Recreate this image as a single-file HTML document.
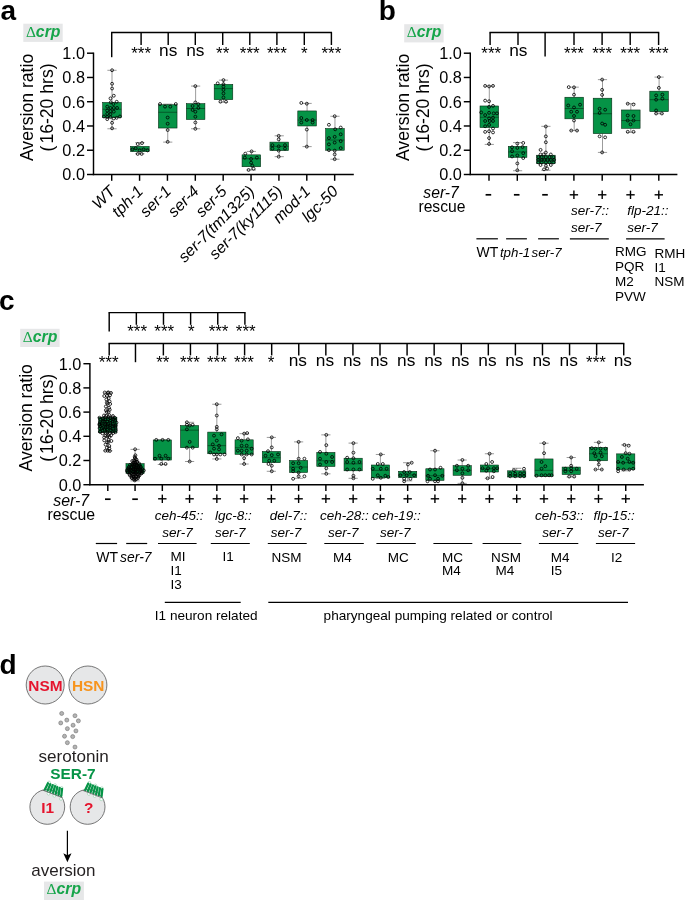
<!DOCTYPE html>
<html lang="en">
<head>
<meta charset="utf-8">
<title>Figure: serotonin SER-7 aversion</title>
<style>
html,body{margin:0;padding:0;background:#fff;}
body{width:685px;height:900px;overflow:hidden;font-family:"Liberation Sans",Arial,sans-serif;}
svg{display:block;will-change:transform;}
</style>
</head>
<body>
<svg width="685" height="900" viewBox="0 0 685 900" font-family="'Liberation Sans', Arial, sans-serif" fill="#000">
<rect width="685" height="900" fill="#fff"/>
<g id="panel-a">
<text x="0.4" y="20.4" font-size="28" font-weight="bold">a</text>
<rect x="23.3" y="23.7" width="39.4" height="18.2" fill="#e6e7e8"/>
<text x="25.9" y="36.5" font-size="14.8" fill="#16a54a"><tspan font-family="'Liberation Serif', serif" font-size="15.5">&#916;</tspan><tspan font-style="italic" font-weight="bold" font-size="15.8">crp</tspan></text>
<line x1="93.5" y1="52.55" x2="93.5" y2="175.15" stroke="#000" stroke-width="1.45"/>
<line x1="87" y1="174.5" x2="93.5" y2="174.5" stroke="#000" stroke-width="1.45"/>
<text x="85" y="180.4" font-size="16.3" text-anchor="end">0.0</text>
<line x1="87" y1="150.24" x2="93.5" y2="150.24" stroke="#000" stroke-width="1.45"/>
<text x="85" y="156.14" font-size="16.3" text-anchor="end">0.2</text>
<line x1="87" y1="125.98" x2="93.5" y2="125.98" stroke="#000" stroke-width="1.45"/>
<text x="85" y="131.88" font-size="16.3" text-anchor="end">0.4</text>
<line x1="87" y1="101.72" x2="93.5" y2="101.72" stroke="#000" stroke-width="1.45"/>
<text x="85" y="107.62" font-size="16.3" text-anchor="end">0.6</text>
<line x1="87" y1="77.46" x2="93.5" y2="77.46" stroke="#000" stroke-width="1.45"/>
<text x="85" y="83.36" font-size="16.3" text-anchor="end">0.8</text>
<line x1="87" y1="53.2" x2="93.5" y2="53.2" stroke="#000" stroke-width="1.45"/>
<text x="85" y="59.1" font-size="16.3" text-anchor="end">1.0</text>
<text transform="translate(26.6,107.45) rotate(-90)" font-size="17.6" text-anchor="middle" y="6">Aversion ratio</text>
<text transform="translate(46.7,107.45) rotate(-90)" font-size="17.6" text-anchor="middle" y="6">(<tspan dx="2">16-20 hrs)</tspan></text>
<line x1="92.85" y1="174.5" x2="353.8" y2="174.5" stroke="#000" stroke-width="1.45"/>
<line x1="111.7" y1="174.5" x2="111.7" y2="180.8" stroke="#000" stroke-width="1.45"/>
<line x1="139.57" y1="174.5" x2="139.57" y2="180.8" stroke="#000" stroke-width="1.45"/>
<line x1="167.44" y1="174.5" x2="167.44" y2="180.8" stroke="#000" stroke-width="1.45"/>
<line x1="195.31" y1="174.5" x2="195.31" y2="180.8" stroke="#000" stroke-width="1.45"/>
<line x1="223.18" y1="174.5" x2="223.18" y2="180.8" stroke="#000" stroke-width="1.45"/>
<line x1="251.05" y1="174.5" x2="251.05" y2="180.8" stroke="#000" stroke-width="1.45"/>
<line x1="278.92" y1="174.5" x2="278.92" y2="180.8" stroke="#000" stroke-width="1.45"/>
<line x1="306.79" y1="174.5" x2="306.79" y2="180.8" stroke="#000" stroke-width="1.45"/>
<line x1="334.66" y1="174.5" x2="334.66" y2="180.8" stroke="#000" stroke-width="1.45"/>
<line x1="111.05" y1="32.6" x2="332.05" y2="32.6" stroke="#000" stroke-width="1.45"/>
<line x1="111.7" y1="32.6" x2="111.7" y2="57.2" stroke="#000" stroke-width="1.45"/>
<line x1="141.1" y1="32.6" x2="141.1" y2="45" stroke="#000" stroke-width="1.45"/>
<line x1="168.2" y1="32.6" x2="168.2" y2="45" stroke="#000" stroke-width="1.45"/>
<line x1="195.3" y1="32.6" x2="195.3" y2="45" stroke="#000" stroke-width="1.45"/>
<line x1="222.7" y1="32.6" x2="222.7" y2="45" stroke="#000" stroke-width="1.45"/>
<line x1="249.8" y1="32.6" x2="249.8" y2="45" stroke="#000" stroke-width="1.45"/>
<line x1="276.9" y1="32.6" x2="276.9" y2="45" stroke="#000" stroke-width="1.45"/>
<line x1="304.3" y1="32.6" x2="304.3" y2="45" stroke="#000" stroke-width="1.45"/>
<line x1="331.4" y1="32.6" x2="331.4" y2="45" stroke="#000" stroke-width="1.45"/>
<text x="141.1" y="59.3" font-size="17" text-anchor="middle">***</text>
<text x="168.2" y="55.7" font-size="17.3" text-anchor="middle">ns</text>
<text x="195.3" y="55.7" font-size="17.3" text-anchor="middle">ns</text>
<text x="222.7" y="59.3" font-size="17" text-anchor="middle">**</text>
<text x="249.8" y="59.3" font-size="17" text-anchor="middle">***</text>
<text x="276.9" y="59.3" font-size="17" text-anchor="middle">***</text>
<text x="304.3" y="59.3" font-size="17" text-anchor="middle">*</text>
<text x="331.4" y="59.3" font-size="17" text-anchor="middle">***</text>
<text transform="translate(116.2,192.3) rotate(-45)" font-size="16" font-style="italic" text-anchor="end">WT</text>
<text transform="translate(144.07,192.3) rotate(-45)" font-size="16" font-style="italic" text-anchor="end">tph-1</text>
<text transform="translate(171.94,192.3) rotate(-45)" font-size="16" font-style="italic" text-anchor="end">ser-1</text>
<text transform="translate(199.81,192.3) rotate(-45)" font-size="16" font-style="italic" text-anchor="end">ser-4</text>
<text transform="translate(227.68,192.3) rotate(-45)" font-size="16" font-style="italic" text-anchor="end">ser-5</text>
<text transform="translate(255.55,192.3) rotate(-45)" font-size="16" font-style="italic" text-anchor="end">ser-7(tm1325)</text>
<text transform="translate(283.42,192.3) rotate(-45)" font-size="16" font-style="italic" text-anchor="end">ser-7(ky1115)</text>
<text transform="translate(311.29,192.3) rotate(-45)" font-size="16" font-style="italic" text-anchor="end">mod-1</text>
<text transform="translate(339.16,192.3) rotate(-45)" font-size="16" font-style="italic" text-anchor="end">lgc-50</text>
<g stroke="#222" stroke-width="0.45">
<line x1="112" y1="70.3" x2="112" y2="102.45"/>
<line x1="112" y1="117.49" x2="112" y2="128.77"/>
<line x1="107.4" y1="70.3" x2="116.6" y2="70.3"/>
<line x1="107.4" y1="128.77" x2="116.6" y2="128.77"/>
</g>
<rect x="102.7" y="102.45" width="18.6" height="15.04" fill="#059346" stroke="#03210d" stroke-width="0.55"/>
<line x1="102.7" y1="109.24" x2="121.3" y2="109.24" stroke="#03210d" stroke-width="0.5"/>
<g fill="none" stroke="#000" stroke-width="0.8">
<circle cx="112.08" cy="70.25" r="1.45"/>
<circle cx="112.08" cy="83.78" r="1.45"/>
<circle cx="112.08" cy="88.51" r="1.45"/>
<circle cx="113.79" cy="95.74" r="1.45"/>
<circle cx="110.5" cy="98.37" r="1.45"/>
<circle cx="116.68" cy="101.78" r="1.45"/>
<circle cx="110.77" cy="102.31" r="1.45"/>
<circle cx="113.39" cy="104.02" r="1.45"/>
<circle cx="107.22" cy="106.64" r="1.45"/>
<circle cx="110.5" cy="107.96" r="1.45"/>
<circle cx="113.79" cy="107.96" r="1.45"/>
<circle cx="117.07" cy="107.96" r="1.45"/>
<circle cx="107.22" cy="110.58" r="1.45"/>
<circle cx="110.5" cy="111.24" r="1.45"/>
<circle cx="113.79" cy="111.64" r="1.45"/>
<circle cx="107.22" cy="113.87" r="1.45"/>
<circle cx="110.5" cy="114.13" r="1.45"/>
<circle cx="103.93" cy="116.5" r="1.45"/>
<circle cx="107.22" cy="116.89" r="1.45"/>
<circle cx="110.5" cy="117.15" r="1.45"/>
<circle cx="113.79" cy="118.47" r="1.45"/>
<circle cx="116.68" cy="117.81" r="1.45"/>
<circle cx="119.96" cy="116.5" r="1.45"/>
<circle cx="107.22" cy="119.12" r="1.45"/>
<circle cx="112.08" cy="122.8" r="1.45"/>
<circle cx="112.08" cy="128.32" r="1.45"/>
</g>
<g stroke="#222" stroke-width="0.45">
<line x1="139.87" y1="142.6" x2="139.87" y2="146.36"/>
<line x1="139.87" y1="151.7" x2="139.87" y2="153.76"/>
<line x1="135.27" y1="142.6" x2="144.47" y2="142.6"/>
<line x1="135.27" y1="153.76" x2="144.47" y2="153.76"/>
</g>
<rect x="130.57" y="146.36" width="18.6" height="5.34" fill="#059346" stroke="#03210d" stroke-width="0.55"/>
<line x1="130.57" y1="149.03" x2="149.17" y2="149.03" stroke="#03210d" stroke-width="0.5"/>
<g fill="none" stroke="#000" stroke-width="0.8">
<circle cx="137.7" cy="144.09" r="1.45"/>
<circle cx="142.04" cy="143.04" r="1.45"/>
<circle cx="132.45" cy="149.34" r="1.45"/>
<circle cx="135.73" cy="148.29" r="1.45"/>
<circle cx="139.67" cy="150.4" r="1.45"/>
<circle cx="143.61" cy="149.34" r="1.45"/>
<circle cx="147.56" cy="150.4" r="1.45"/>
<circle cx="137.7" cy="153.94" r="1.45"/>
<circle cx="141.64" cy="153.94" r="1.45"/>
</g>
<g stroke="#222" stroke-width="0.45">
<line x1="167.74" y1="104.15" x2="167.74" y2="104.75"/>
<line x1="167.74" y1="128.04" x2="167.74" y2="142.11"/>
<line x1="163.14" y1="104.15" x2="172.34" y2="104.15"/>
<line x1="163.14" y1="142.11" x2="172.34" y2="142.11"/>
</g>
<rect x="158.44" y="104.75" width="18.6" height="23.29" fill="#059346" stroke="#03210d" stroke-width="0.55"/>
<line x1="158.44" y1="112.27" x2="177.04" y2="112.27" stroke="#03210d" stroke-width="0.5"/>
<g fill="none" stroke="#000" stroke-width="0.8">
<circle cx="160.04" cy="104.02" r="1.45"/>
<circle cx="175.8" cy="104.02" r="1.45"/>
<circle cx="165.03" cy="106.64" r="1.45"/>
<circle cx="170.29" cy="106.64" r="1.45"/>
<circle cx="167.66" cy="117.55" r="1.45"/>
<circle cx="167.66" cy="123.72" r="1.45"/>
<circle cx="167.66" cy="130.03" r="1.45"/>
<circle cx="167.66" cy="141.86" r="1.45"/>
</g>
<g stroke="#222" stroke-width="0.45">
<line x1="195.61" y1="86.07" x2="195.61" y2="103.66"/>
<line x1="195.61" y1="119.55" x2="195.61" y2="128.77"/>
<line x1="191.01" y1="86.07" x2="200.21" y2="86.07"/>
<line x1="191.01" y1="128.77" x2="200.21" y2="128.77"/>
</g>
<rect x="186.31" y="103.66" width="18.6" height="15.89" fill="#059346" stroke="#03210d" stroke-width="0.55"/>
<line x1="186.31" y1="108.51" x2="204.91" y2="108.51" stroke="#03210d" stroke-width="0.5"/>
<g fill="none" stroke="#000" stroke-width="0.8">
<circle cx="195.35" cy="86.12" r="1.45"/>
<circle cx="195.35" cy="102.44" r="1.45"/>
<circle cx="198.36" cy="104.19" r="1.45"/>
<circle cx="192.59" cy="105.95" r="1.45"/>
<circle cx="198.36" cy="107.96" r="1.45"/>
<circle cx="192.59" cy="109.97" r="1.45"/>
<circle cx="195.35" cy="111.72" r="1.45"/>
<circle cx="195.35" cy="116.75" r="1.45"/>
<circle cx="195.35" cy="122.52" r="1.45"/>
<circle cx="195.35" cy="128.8" r="1.45"/>
</g>
<g stroke="#222" stroke-width="0.45">
<line x1="223.48" y1="80.13" x2="223.48" y2="84.37"/>
<line x1="223.48" y1="99.66" x2="223.48" y2="102.21"/>
<line x1="218.88" y1="80.13" x2="228.08" y2="80.13"/>
<line x1="218.88" y1="102.21" x2="228.08" y2="102.21"/>
</g>
<rect x="214.18" y="84.37" width="18.6" height="15.28" fill="#059346" stroke="#03210d" stroke-width="0.55"/>
<line x1="214.18" y1="88.62" x2="232.78" y2="88.62" stroke="#03210d" stroke-width="0.5"/>
<g fill="none" stroke="#000" stroke-width="0.8">
<circle cx="223.47" cy="80.09" r="1.45"/>
<circle cx="217.69" cy="83.35" r="1.45"/>
<circle cx="223.47" cy="84.11" r="1.45"/>
<circle cx="223.47" cy="86.62" r="1.45"/>
<circle cx="223.47" cy="89.88" r="1.45"/>
<circle cx="223.47" cy="93.4" r="1.45"/>
<circle cx="223.47" cy="97.41" r="1.45"/>
<circle cx="220.46" cy="101.68" r="1.45"/>
<circle cx="225.98" cy="101.68" r="1.45"/>
</g>
<g stroke="#222" stroke-width="0.45">
<line x1="251.35" y1="151.45" x2="251.35" y2="154.85"/>
<line x1="251.35" y1="166.74" x2="251.35" y2="170.01"/>
<line x1="246.75" y1="151.45" x2="255.95" y2="151.45"/>
<line x1="246.75" y1="170.01" x2="255.95" y2="170.01"/>
</g>
<rect x="242.05" y="154.85" width="18.6" height="11.89" fill="#059346" stroke="#03210d" stroke-width="0.55"/>
<line x1="242.05" y1="158.73" x2="260.65" y2="158.73" stroke="#03210d" stroke-width="0.5"/>
<g fill="none" stroke="#000" stroke-width="0.8">
<circle cx="251.59" cy="151.39" r="1.45"/>
<circle cx="245.31" cy="153.65" r="1.45"/>
<circle cx="244.81" cy="157.67" r="1.45"/>
<circle cx="251.09" cy="158.93" r="1.45"/>
<circle cx="256.86" cy="157.67" r="1.45"/>
<circle cx="251.09" cy="162.69" r="1.45"/>
<circle cx="252.34" cy="165.7" r="1.45"/>
<circle cx="248.58" cy="169.97" r="1.45"/>
<circle cx="253.6" cy="168.72" r="1.45"/>
</g>
<g stroke="#222" stroke-width="0.45">
<line x1="279.22" y1="135.81" x2="279.22" y2="142.11"/>
<line x1="279.22" y1="150.6" x2="279.22" y2="156.67"/>
<line x1="274.62" y1="135.81" x2="283.82" y2="135.81"/>
<line x1="274.62" y1="156.67" x2="283.82" y2="156.67"/>
</g>
<rect x="269.92" y="142.11" width="18.6" height="8.49" fill="#059346" stroke="#03210d" stroke-width="0.55"/>
<line x1="269.92" y1="146.36" x2="288.52" y2="146.36" stroke="#03210d" stroke-width="0.5"/>
<g fill="none" stroke="#000" stroke-width="0.8">
<circle cx="278.7" cy="135.83" r="1.45"/>
<circle cx="278.7" cy="139.34" r="1.45"/>
<circle cx="272.43" cy="145.12" r="1.45"/>
<circle cx="278.7" cy="146.37" r="1.45"/>
<circle cx="284.98" cy="145.12" r="1.45"/>
<circle cx="272.43" cy="148.63" r="1.45"/>
<circle cx="278.7" cy="150.64" r="1.45"/>
<circle cx="284.98" cy="148.63" r="1.45"/>
<circle cx="278.7" cy="156.67" r="1.45"/>
</g>
<g stroke="#222" stroke-width="0.45">
<line x1="307.09" y1="103.42" x2="307.09" y2="110.94"/>
<line x1="307.09" y1="125.98" x2="307.09" y2="146.6"/>
<line x1="302.49" y1="103.42" x2="311.69" y2="103.42"/>
<line x1="302.49" y1="146.6" x2="311.69" y2="146.6"/>
</g>
<rect x="297.79" y="110.94" width="18.6" height="15.04" fill="#059346" stroke="#03210d" stroke-width="0.55"/>
<line x1="297.79" y1="120.04" x2="316.39" y2="120.04" stroke="#03210d" stroke-width="0.5"/>
<g fill="none" stroke="#000" stroke-width="0.8">
<circle cx="301.3" cy="102.94" r="1.45"/>
<circle cx="306.82" cy="103.69" r="1.45"/>
<circle cx="301.3" cy="118" r="1.45"/>
<circle cx="306.82" cy="120.01" r="1.45"/>
<circle cx="312.6" cy="120.01" r="1.45"/>
<circle cx="301.3" cy="122.52" r="1.45"/>
<circle cx="312.6" cy="122.52" r="1.45"/>
<circle cx="306.82" cy="129.55" r="1.45"/>
<circle cx="306.82" cy="146.62" r="1.45"/>
</g>
<g stroke="#222" stroke-width="0.45">
<line x1="334.96" y1="116.28" x2="334.96" y2="128.53"/>
<line x1="334.96" y1="150.24" x2="334.96" y2="159.22"/>
<line x1="330.36" y1="116.28" x2="339.56" y2="116.28"/>
<line x1="330.36" y1="159.22" x2="339.56" y2="159.22"/>
</g>
<rect x="325.66" y="128.53" width="18.6" height="21.71" fill="#059346" stroke="#03210d" stroke-width="0.55"/>
<line x1="325.66" y1="140.05" x2="344.26" y2="140.05" stroke="#03210d" stroke-width="0.5"/>
<g fill="none" stroke="#000" stroke-width="0.8">
<circle cx="334.69" cy="116.24" r="1.45"/>
<circle cx="328.92" cy="124.78" r="1.45"/>
<circle cx="335.19" cy="129.3" r="1.45"/>
<circle cx="340.72" cy="127.54" r="1.45"/>
<circle cx="328.92" cy="138.09" r="1.45"/>
<circle cx="334.69" cy="136.83" r="1.45"/>
<circle cx="340.72" cy="134.32" r="1.45"/>
<circle cx="328.92" cy="144.36" r="1.45"/>
<circle cx="334.69" cy="142.61" r="1.45"/>
<circle cx="340.72" cy="141.1" r="1.45"/>
<circle cx="328.92" cy="150.14" r="1.45"/>
<circle cx="334.69" cy="150.64" r="1.45"/>
<circle cx="340.72" cy="148.13" r="1.45"/>
<circle cx="334.69" cy="154.41" r="1.45"/>
<circle cx="334.69" cy="159.18" r="1.45"/>
</g>
</g>
<g id="panel-b">
<text x="378.7" y="20.4" font-size="28" font-weight="bold">b</text>
<rect x="404.2" y="24.2" width="39.4" height="18.2" fill="#e6e7e8"/>
<text x="406.8" y="37" font-size="14.8" fill="#16a54a"><tspan font-family="'Liberation Serif', serif" font-size="15.5">&#916;</tspan><tspan font-style="italic" font-weight="bold" font-size="15.8">crp</tspan></text>
<line x1="470.3" y1="52.55" x2="470.3" y2="175.15" stroke="#000" stroke-width="1.45"/>
<line x1="463.8" y1="174.5" x2="470.3" y2="174.5" stroke="#000" stroke-width="1.45"/>
<text x="461.8" y="180.4" font-size="16.3" text-anchor="end">0.0</text>
<line x1="463.8" y1="150.24" x2="470.3" y2="150.24" stroke="#000" stroke-width="1.45"/>
<text x="461.8" y="156.14" font-size="16.3" text-anchor="end">0.2</text>
<line x1="463.8" y1="125.98" x2="470.3" y2="125.98" stroke="#000" stroke-width="1.45"/>
<text x="461.8" y="131.88" font-size="16.3" text-anchor="end">0.4</text>
<line x1="463.8" y1="101.72" x2="470.3" y2="101.72" stroke="#000" stroke-width="1.45"/>
<text x="461.8" y="107.62" font-size="16.3" text-anchor="end">0.6</text>
<line x1="463.8" y1="77.46" x2="470.3" y2="77.46" stroke="#000" stroke-width="1.45"/>
<text x="461.8" y="83.36" font-size="16.3" text-anchor="end">0.8</text>
<line x1="463.8" y1="53.2" x2="470.3" y2="53.2" stroke="#000" stroke-width="1.45"/>
<text x="461.8" y="59.1" font-size="16.3" text-anchor="end">1.0</text>
<text transform="translate(402.8,107.45) rotate(-90)" font-size="17.6" text-anchor="middle" y="6">Aversion ratio</text>
<text transform="translate(423.1,107.45) rotate(-90)" font-size="17.6" text-anchor="middle" y="6">(<tspan dx="2">16-20 hrs)</tspan></text>
<line x1="469.65" y1="174.5" x2="677.4" y2="174.5" stroke="#000" stroke-width="1.45"/>
<line x1="489" y1="174.5" x2="489" y2="180.8" stroke="#000" stroke-width="1.45"/>
<line x1="517.3" y1="174.5" x2="517.3" y2="180.8" stroke="#000" stroke-width="1.45"/>
<line x1="545.6" y1="174.5" x2="545.6" y2="180.8" stroke="#000" stroke-width="1.45"/>
<line x1="573.9" y1="174.5" x2="573.9" y2="180.8" stroke="#000" stroke-width="1.45"/>
<line x1="602.2" y1="174.5" x2="602.2" y2="180.8" stroke="#000" stroke-width="1.45"/>
<line x1="630.5" y1="174.5" x2="630.5" y2="180.8" stroke="#000" stroke-width="1.45"/>
<line x1="658.8" y1="174.5" x2="658.8" y2="180.8" stroke="#000" stroke-width="1.45"/>
<line x1="489.45" y1="32.6" x2="659.25" y2="32.6" stroke="#000" stroke-width="1.45"/>
<line x1="490.1" y1="32.6" x2="490.1" y2="45" stroke="#000" stroke-width="1.45"/>
<line x1="518" y1="32.6" x2="518" y2="45" stroke="#000" stroke-width="1.45"/>
<line x1="545.1" y1="32.6" x2="545.1" y2="56.4" stroke="#000" stroke-width="1.45"/>
<line x1="574" y1="32.6" x2="574" y2="45" stroke="#000" stroke-width="1.45"/>
<line x1="602.1" y1="32.6" x2="602.1" y2="45" stroke="#000" stroke-width="1.45"/>
<line x1="630.2" y1="32.6" x2="630.2" y2="45" stroke="#000" stroke-width="1.45"/>
<line x1="658.6" y1="32.6" x2="658.6" y2="45" stroke="#000" stroke-width="1.45"/>
<text x="491.2" y="59.3" font-size="17" text-anchor="middle">***</text>
<text x="518.3" y="55.7" font-size="17.3" text-anchor="middle">ns</text>
<text x="574" y="59.3" font-size="17" text-anchor="middle">***</text>
<text x="602.1" y="59.3" font-size="17" text-anchor="middle">***</text>
<text x="630.2" y="59.3" font-size="17" text-anchor="middle">***</text>
<text x="658.6" y="59.3" font-size="17" text-anchor="middle">***</text>
<g stroke="#222" stroke-width="0.45">
<line x1="489.3" y1="86.07" x2="489.3" y2="105.97"/>
<line x1="489.3" y1="127.56" x2="489.3" y2="144.42"/>
<line x1="484.7" y1="86.07" x2="493.9" y2="86.07"/>
<line x1="484.7" y1="144.42" x2="493.9" y2="144.42"/>
</g>
<rect x="480" y="105.97" width="18.6" height="21.59" fill="#059346" stroke="#03210d" stroke-width="0.55"/>
<line x1="480" y1="117.25" x2="498.6" y2="117.25" stroke="#03210d" stroke-width="0.5"/>
<g fill="none" stroke="#000" stroke-width="0.8">
<circle cx="485.14" cy="85.91" r="1.45"/>
<circle cx="489.08" cy="86.43" r="1.45"/>
<circle cx="493.02" cy="85.91" r="1.45"/>
<circle cx="485.14" cy="100.62" r="1.45"/>
<circle cx="489.08" cy="101.28" r="1.45"/>
<circle cx="493.02" cy="105.88" r="1.45"/>
<circle cx="489.08" cy="106.93" r="1.45"/>
<circle cx="481.2" cy="112.45" r="1.45"/>
<circle cx="489.08" cy="112.84" r="1.45"/>
<circle cx="493.68" cy="113.37" r="1.45"/>
<circle cx="496.96" cy="113.37" r="1.45"/>
<circle cx="485.14" cy="115.07" r="1.45"/>
<circle cx="489.08" cy="118.36" r="1.45"/>
<circle cx="493.02" cy="117.7" r="1.45"/>
<circle cx="485.14" cy="120.99" r="1.45"/>
<circle cx="489.74" cy="120.99" r="1.45"/>
<circle cx="493.02" cy="120.99" r="1.45"/>
<circle cx="489.08" cy="124.93" r="1.45"/>
<circle cx="485.14" cy="126.24" r="1.45"/>
<circle cx="493.02" cy="128.48" r="1.45"/>
<circle cx="485.14" cy="131.89" r="1.45"/>
<circle cx="489.08" cy="131.23" r="1.45"/>
<circle cx="493.02" cy="132.42" r="1.45"/>
<circle cx="489.08" cy="138.07" r="1.45"/>
<circle cx="489.08" cy="143.98" r="1.45"/>
</g>
<g stroke="#222" stroke-width="0.45">
<line x1="517.6" y1="142.6" x2="517.6" y2="146.36"/>
<line x1="517.6" y1="157.4" x2="517.6" y2="170.74"/>
<line x1="513" y1="142.6" x2="522.2" y2="142.6"/>
<line x1="513" y1="170.74" x2="522.2" y2="170.74"/>
</g>
<rect x="508.3" y="146.36" width="18.6" height="11.04" fill="#059346" stroke="#03210d" stroke-width="0.55"/>
<line x1="508.3" y1="151.94" x2="526.9" y2="151.94" stroke="#03210d" stroke-width="0.5"/>
<g fill="none" stroke="#000" stroke-width="0.8">
<circle cx="517.33" cy="143.58" r="1.45"/>
<circle cx="523.24" cy="142.93" r="1.45"/>
<circle cx="512.07" cy="147.26" r="1.45"/>
<circle cx="517.33" cy="147.92" r="1.45"/>
<circle cx="522.58" cy="147" r="1.45"/>
<circle cx="512.07" cy="151.21" r="1.45"/>
<circle cx="523.24" cy="153.18" r="1.45"/>
<circle cx="512.07" cy="156.46" r="1.45"/>
<circle cx="517.33" cy="155.41" r="1.45"/>
<circle cx="523.24" cy="158.04" r="1.45"/>
<circle cx="517.33" cy="163.42" r="1.45"/>
<circle cx="517.33" cy="170.26" r="1.45"/>
</g>
<g stroke="#222" stroke-width="0.45">
<line x1="545.9" y1="126.34" x2="545.9" y2="155.21"/>
<line x1="545.9" y1="163.7" x2="545.9" y2="170.25"/>
<line x1="541.3" y1="126.34" x2="550.5" y2="126.34"/>
<line x1="541.3" y1="170.25" x2="550.5" y2="170.25"/>
</g>
<rect x="536.6" y="155.21" width="18.6" height="8.49" fill="#059346" stroke="#03210d" stroke-width="0.55"/>
<line x1="536.6" y1="159.7" x2="555.2" y2="159.7" stroke="#03210d" stroke-width="0.5"/>
<g fill="none" stroke="#000" stroke-width="0.8">
<circle cx="545.84" cy="126.5" r="1.45"/>
<circle cx="545.84" cy="136.36" r="1.45"/>
<circle cx="545.84" cy="142.27" r="1.45"/>
<circle cx="540.58" cy="149.89" r="1.45"/>
<circle cx="545.84" cy="152.52" r="1.45"/>
<circle cx="540.58" cy="154.49" r="1.45"/>
<circle cx="543.61" cy="154.49" r="1.45"/>
<circle cx="550.83" cy="154.49" r="1.45"/>
<circle cx="538.35" cy="157.12" r="1.45"/>
<circle cx="541.64" cy="157.12" r="1.45"/>
<circle cx="545.84" cy="157.12" r="1.45"/>
<circle cx="549.52" cy="157.12" r="1.45"/>
<circle cx="553.46" cy="157.12" r="1.45"/>
<circle cx="538.35" cy="159.75" r="1.45"/>
<circle cx="541.64" cy="159.75" r="1.45"/>
<circle cx="544.26" cy="159.75" r="1.45"/>
<circle cx="547.55" cy="159.75" r="1.45"/>
<circle cx="550.83" cy="159.75" r="1.45"/>
<circle cx="554.12" cy="159.75" r="1.45"/>
<circle cx="538.35" cy="162.37" r="1.45"/>
<circle cx="541.64" cy="162.37" r="1.45"/>
<circle cx="545.84" cy="162.37" r="1.45"/>
<circle cx="549.52" cy="162.37" r="1.45"/>
<circle cx="553.46" cy="162.37" r="1.45"/>
<circle cx="540.58" cy="165" r="1.45"/>
<circle cx="545.84" cy="165.66" r="1.45"/>
<circle cx="550.83" cy="165" r="1.45"/>
<circle cx="544" cy="169.34" r="1.45"/>
<circle cx="547.15" cy="168.55" r="1.45"/>
</g>
<g stroke="#222" stroke-width="0.45">
<line x1="574.2" y1="87.16" x2="574.2" y2="97.23"/>
<line x1="574.2" y1="118.82" x2="574.2" y2="130.59"/>
<line x1="569.6" y1="87.16" x2="578.8" y2="87.16"/>
<line x1="569.6" y1="130.59" x2="578.8" y2="130.59"/>
</g>
<rect x="564.9" y="97.23" width="18.6" height="21.59" fill="#059346" stroke="#03210d" stroke-width="0.55"/>
<line x1="564.9" y1="108.51" x2="583.5" y2="108.51" stroke="#03210d" stroke-width="0.5"/>
<g fill="none" stroke="#000" stroke-width="0.8">
<circle cx="568.74" cy="87.12" r="1.45"/>
<circle cx="574.01" cy="87.37" r="1.45"/>
<circle cx="574.01" cy="94.65" r="1.45"/>
<circle cx="568.23" cy="105.45" r="1.45"/>
<circle cx="580.03" cy="104.69" r="1.45"/>
<circle cx="574.01" cy="107.46" r="1.45"/>
<circle cx="571.25" cy="111.72" r="1.45"/>
<circle cx="577.02" cy="111.72" r="1.45"/>
<circle cx="574.01" cy="115.99" r="1.45"/>
<circle cx="574.01" cy="120.51" r="1.45"/>
<circle cx="571.25" cy="130.55" r="1.45"/>
<circle cx="577.02" cy="130.55" r="1.45"/>
</g>
<g stroke="#222" stroke-width="0.45">
<line x1="602.5" y1="79.64" x2="602.5" y2="98.2"/>
<line x1="602.5" y1="133.62" x2="602.5" y2="152.42"/>
<line x1="597.9" y1="79.64" x2="607.1" y2="79.64"/>
<line x1="597.9" y1="152.42" x2="607.1" y2="152.42"/>
</g>
<rect x="593.2" y="98.2" width="18.6" height="35.42" fill="#059346" stroke="#03210d" stroke-width="0.55"/>
<line x1="593.2" y1="113.73" x2="611.8" y2="113.73" stroke="#03210d" stroke-width="0.5"/>
<g fill="none" stroke="#000" stroke-width="0.8">
<circle cx="602.13" cy="79.59" r="1.45"/>
<circle cx="602.13" cy="89.88" r="1.45"/>
<circle cx="602.13" cy="94.9" r="1.45"/>
<circle cx="599.62" cy="108.71" r="1.45"/>
<circle cx="605.14" cy="109.72" r="1.45"/>
<circle cx="599.62" cy="112.98" r="1.45"/>
<circle cx="602.13" cy="123.52" r="1.45"/>
<circle cx="605.14" cy="124.78" r="1.45"/>
<circle cx="599.62" cy="136.33" r="1.45"/>
<circle cx="605.14" cy="137.33" r="1.45"/>
<circle cx="602.13" cy="152.4" r="1.45"/>
</g>
<g stroke="#222" stroke-width="0.45">
<line x1="630.8" y1="103.66" x2="630.8" y2="109.97"/>
<line x1="630.8" y1="128.28" x2="630.8" y2="132.29"/>
<line x1="626.2" y1="103.66" x2="635.4" y2="103.66"/>
<line x1="626.2" y1="132.29" x2="635.4" y2="132.29"/>
</g>
<rect x="621.5" y="109.97" width="18.6" height="18.32" fill="#059346" stroke="#03210d" stroke-width="0.55"/>
<line x1="621.5" y1="120.52" x2="640.1" y2="120.52" stroke="#03210d" stroke-width="0.5"/>
<g fill="none" stroke="#000" stroke-width="0.8">
<circle cx="627.74" cy="103.69" r="1.45"/>
<circle cx="633.51" cy="104.44" r="1.45"/>
<circle cx="627.74" cy="115.49" r="1.45"/>
<circle cx="633.51" cy="115.99" r="1.45"/>
<circle cx="627.74" cy="120.51" r="1.45"/>
<circle cx="633.51" cy="120.51" r="1.45"/>
<circle cx="630.5" cy="124.28" r="1.45"/>
<circle cx="627.74" cy="131.81" r="1.45"/>
<circle cx="633.51" cy="131.81" r="1.45"/>
</g>
<g stroke="#222" stroke-width="0.45">
<line x1="659.1" y1="77.1" x2="659.1" y2="91.17"/>
<line x1="659.1" y1="111.67" x2="659.1" y2="113.73"/>
<line x1="654.5" y1="77.1" x2="663.7" y2="77.1"/>
<line x1="654.5" y1="113.73" x2="663.7" y2="113.73"/>
</g>
<rect x="649.8" y="91.17" width="18.6" height="20.5" fill="#059346" stroke="#03210d" stroke-width="0.55"/>
<line x1="649.8" y1="99.66" x2="668.4" y2="99.66" stroke="#03210d" stroke-width="0.5"/>
<g fill="none" stroke="#000" stroke-width="0.8">
<circle cx="658.87" cy="77.08" r="1.45"/>
<circle cx="658.87" cy="87.87" r="1.45"/>
<circle cx="656.11" cy="95.41" r="1.45"/>
<circle cx="662.38" cy="94.65" r="1.45"/>
<circle cx="656.11" cy="99.67" r="1.45"/>
<circle cx="662.38" cy="98.67" r="1.45"/>
<circle cx="656.11" cy="110.47" r="1.45"/>
<circle cx="656.11" cy="113.48" r="1.45"/>
<circle cx="661.88" cy="113.48" r="1.45"/>
</g>
<text x="458.8" y="198" font-size="15.7" text-anchor="end" font-style="italic">ser-7</text>
<text x="465.5" y="211.7" font-size="15.7" text-anchor="end">rescue</text>
<line x1="485.6" y1="194.8" x2="491.2" y2="194.8" stroke="#000" stroke-width="1.7"/>
<line x1="513.9" y1="194.8" x2="519.5" y2="194.8" stroke="#000" stroke-width="1.7"/>
<line x1="542.2" y1="194.8" x2="547.8" y2="194.8" stroke="#000" stroke-width="1.7"/>
<line x1="569.7" y1="194.8" x2="578.1" y2="194.8" stroke="#000" stroke-width="1.4"/>
<line x1="573.9" y1="190.6" x2="573.9" y2="199" stroke="#000" stroke-width="1.4"/>
<line x1="598" y1="194.8" x2="606.4" y2="194.8" stroke="#000" stroke-width="1.4"/>
<line x1="602.2" y1="190.6" x2="602.2" y2="199" stroke="#000" stroke-width="1.4"/>
<line x1="626.3" y1="194.8" x2="634.7" y2="194.8" stroke="#000" stroke-width="1.4"/>
<line x1="630.5" y1="190.6" x2="630.5" y2="199" stroke="#000" stroke-width="1.4"/>
<line x1="654.6" y1="194.8" x2="663" y2="194.8" stroke="#000" stroke-width="1.4"/>
<line x1="658.8" y1="190.6" x2="658.8" y2="199" stroke="#000" stroke-width="1.4"/>
<text x="571" y="215.3" font-size="13.5" font-style="italic">ser-7::</text>
<text x="571" y="231.6" font-size="13.5" font-style="italic">ser-7</text>
<text x="627.2" y="215.3" font-size="13.5" font-style="italic">flp-21::</text>
<text x="627.2" y="231.6" font-size="13.5" font-style="italic">ser-7</text>
<line x1="476.4" y1="238.8" x2="497.9" y2="238.8" stroke="#000" stroke-width="1.2"/>
<line x1="506.1" y1="238.8" x2="526.9" y2="238.8" stroke="#000" stroke-width="1.2"/>
<line x1="538.1" y1="238.8" x2="558.9" y2="238.8" stroke="#000" stroke-width="1.2"/>
<line x1="569.9" y1="238.8" x2="608.8" y2="238.8" stroke="#000" stroke-width="1.2"/>
<line x1="626.1" y1="238.8" x2="664.6" y2="238.8" stroke="#000" stroke-width="1.2"/>
<text x="476.5" y="257" font-size="14.0">WT</text>
<text x="499.9" y="256.8" font-size="13.3" font-style="italic">tph-1</text>
<text x="531.5" y="256.8" font-size="13.3" font-style="italic">ser-7</text>
<text x="615.1" y="256.3" font-size="13.5">RMG</text>
<text x="615.1" y="271.3" font-size="13.5">PQR</text>
<text x="615.1" y="286.3" font-size="13.5">M2</text>
<text x="615.1" y="301.3" font-size="13.5">PVW</text>
<text x="654.6" y="257.6" font-size="13.5">RMH</text>
<text x="654.6" y="271.7" font-size="13.5">I1</text>
<text x="654.6" y="285.8" font-size="13.5">NSM</text>
</g>
<g id="panel-c">
<text x="-1" y="310.1" font-size="28" font-weight="bold">c</text>
<rect x="20.2" y="328.8" width="39.4" height="18.2" fill="#e6e7e8"/>
<text x="22.8" y="341.6" font-size="14.8" fill="#16a54a"><tspan font-family="'Liberation Serif', serif" font-size="15.5">&#916;</tspan><tspan font-style="italic" font-weight="bold" font-size="15.8">crp</tspan></text>
<line x1="89.9" y1="363.05" x2="89.9" y2="485.35" stroke="#000" stroke-width="1.45"/>
<line x1="83.4" y1="484.7" x2="89.9" y2="484.7" stroke="#000" stroke-width="1.45"/>
<text x="81.4" y="490.6" font-size="16.3" text-anchor="end">0.0</text>
<line x1="83.4" y1="460.5" x2="89.9" y2="460.5" stroke="#000" stroke-width="1.45"/>
<text x="81.4" y="466.4" font-size="16.3" text-anchor="end">0.2</text>
<line x1="83.4" y1="436.3" x2="89.9" y2="436.3" stroke="#000" stroke-width="1.45"/>
<text x="81.4" y="442.2" font-size="16.3" text-anchor="end">0.4</text>
<line x1="83.4" y1="412.1" x2="89.9" y2="412.1" stroke="#000" stroke-width="1.45"/>
<text x="81.4" y="418" font-size="16.3" text-anchor="end">0.6</text>
<line x1="83.4" y1="387.9" x2="89.9" y2="387.9" stroke="#000" stroke-width="1.45"/>
<text x="81.4" y="393.8" font-size="16.3" text-anchor="end">0.8</text>
<line x1="83.4" y1="363.7" x2="89.9" y2="363.7" stroke="#000" stroke-width="1.45"/>
<text x="81.4" y="369.6" font-size="16.3" text-anchor="end">1.0</text>
<text transform="translate(26.4,417.8) rotate(-90)" font-size="17.6" text-anchor="middle" y="6">Aversion ratio</text>
<text transform="translate(46.7,417.8) rotate(-90)" font-size="17.6" text-anchor="middle" y="6">(<tspan dx="2">16-20 hrs)</tspan></text>
<line x1="89.25" y1="484.7" x2="643.9" y2="484.7" stroke="#000" stroke-width="1.45"/>
<line x1="107.8" y1="484.7" x2="107.8" y2="491" stroke="#000" stroke-width="1.45"/>
<line x1="135.06" y1="484.7" x2="135.06" y2="491" stroke="#000" stroke-width="1.45"/>
<line x1="162.32" y1="484.7" x2="162.32" y2="491" stroke="#000" stroke-width="1.45"/>
<line x1="189.58" y1="484.7" x2="189.58" y2="491" stroke="#000" stroke-width="1.45"/>
<line x1="216.84" y1="484.7" x2="216.84" y2="491" stroke="#000" stroke-width="1.45"/>
<line x1="244.1" y1="484.7" x2="244.1" y2="491" stroke="#000" stroke-width="1.45"/>
<line x1="271.36" y1="484.7" x2="271.36" y2="491" stroke="#000" stroke-width="1.45"/>
<line x1="298.62" y1="484.7" x2="298.62" y2="491" stroke="#000" stroke-width="1.45"/>
<line x1="325.88" y1="484.7" x2="325.88" y2="491" stroke="#000" stroke-width="1.45"/>
<line x1="353.14" y1="484.7" x2="353.14" y2="491" stroke="#000" stroke-width="1.45"/>
<line x1="380.4" y1="484.7" x2="380.4" y2="491" stroke="#000" stroke-width="1.45"/>
<line x1="407.66" y1="484.7" x2="407.66" y2="491" stroke="#000" stroke-width="1.45"/>
<line x1="434.92" y1="484.7" x2="434.92" y2="491" stroke="#000" stroke-width="1.45"/>
<line x1="462.18" y1="484.7" x2="462.18" y2="491" stroke="#000" stroke-width="1.45"/>
<line x1="489.44" y1="484.7" x2="489.44" y2="491" stroke="#000" stroke-width="1.45"/>
<line x1="516.7" y1="484.7" x2="516.7" y2="491" stroke="#000" stroke-width="1.45"/>
<line x1="543.96" y1="484.7" x2="543.96" y2="491" stroke="#000" stroke-width="1.45"/>
<line x1="571.22" y1="484.7" x2="571.22" y2="491" stroke="#000" stroke-width="1.45"/>
<line x1="598.48" y1="484.7" x2="598.48" y2="491" stroke="#000" stroke-width="1.45"/>
<line x1="625.74" y1="484.7" x2="625.74" y2="491" stroke="#000" stroke-width="1.45"/>
<line x1="108.55" y1="312.6" x2="245.55" y2="312.6" stroke="#000" stroke-width="1.45"/>
<line x1="109.2" y1="312.6" x2="109.2" y2="331.6" stroke="#000" stroke-width="1.45"/>
<line x1="136.34" y1="312.6" x2="136.34" y2="324.8" stroke="#000" stroke-width="1.45"/>
<line x1="163.48" y1="312.6" x2="163.48" y2="324.8" stroke="#000" stroke-width="1.45"/>
<line x1="190.62" y1="312.6" x2="190.62" y2="324.8" stroke="#000" stroke-width="1.45"/>
<line x1="217.76" y1="312.6" x2="217.76" y2="324.8" stroke="#000" stroke-width="1.45"/>
<line x1="244.9" y1="312.6" x2="244.9" y2="324.8" stroke="#000" stroke-width="1.45"/>
<text x="137.14" y="337" font-size="17" text-anchor="middle">***</text>
<text x="164.28" y="337" font-size="17" text-anchor="middle">***</text>
<text x="191.42" y="337" font-size="17" text-anchor="middle">*</text>
<text x="218.56" y="337" font-size="17" text-anchor="middle">***</text>
<text x="245.7" y="337" font-size="17" text-anchor="middle">***</text>
<line x1="108.55" y1="343.5" x2="624.37" y2="343.5" stroke="#000" stroke-width="1.45"/>
<line x1="109.2" y1="343.5" x2="109.2" y2="355.4" stroke="#000" stroke-width="1.45"/>
<line x1="135.48" y1="343.5" x2="135.48" y2="362.2" stroke="#000" stroke-width="1.45"/>
<line x1="163.36" y1="343.5" x2="163.36" y2="355.4" stroke="#000" stroke-width="1.45"/>
<line x1="190.44" y1="343.5" x2="190.44" y2="355.4" stroke="#000" stroke-width="1.45"/>
<line x1="217.52" y1="343.5" x2="217.52" y2="355.4" stroke="#000" stroke-width="1.45"/>
<line x1="244.6" y1="343.5" x2="244.6" y2="355.4" stroke="#000" stroke-width="1.45"/>
<line x1="271.68" y1="343.5" x2="271.68" y2="355.4" stroke="#000" stroke-width="1.45"/>
<line x1="298.76" y1="343.5" x2="298.76" y2="355.4" stroke="#000" stroke-width="1.45"/>
<line x1="325.84" y1="343.5" x2="325.84" y2="355.4" stroke="#000" stroke-width="1.45"/>
<line x1="352.92" y1="343.5" x2="352.92" y2="355.4" stroke="#000" stroke-width="1.45"/>
<line x1="380" y1="343.5" x2="380" y2="355.4" stroke="#000" stroke-width="1.45"/>
<line x1="407.08" y1="343.5" x2="407.08" y2="355.4" stroke="#000" stroke-width="1.45"/>
<line x1="434.16" y1="343.5" x2="434.16" y2="355.4" stroke="#000" stroke-width="1.45"/>
<line x1="461.24" y1="343.5" x2="461.24" y2="355.4" stroke="#000" stroke-width="1.45"/>
<line x1="488.32" y1="343.5" x2="488.32" y2="355.4" stroke="#000" stroke-width="1.45"/>
<line x1="515.4" y1="343.5" x2="515.4" y2="355.4" stroke="#000" stroke-width="1.45"/>
<line x1="542.48" y1="343.5" x2="542.48" y2="355.4" stroke="#000" stroke-width="1.45"/>
<line x1="569.56" y1="343.5" x2="569.56" y2="355.4" stroke="#000" stroke-width="1.45"/>
<line x1="596.64" y1="343.5" x2="596.64" y2="355.4" stroke="#000" stroke-width="1.45"/>
<line x1="623.72" y1="343.5" x2="623.72" y2="355.4" stroke="#000" stroke-width="1.45"/>
<text x="108.6" y="368.1" font-size="17" text-anchor="middle">***</text>
<text x="162.76" y="368.1" font-size="17" text-anchor="middle">**</text>
<text x="189.84" y="368.1" font-size="17" text-anchor="middle">***</text>
<text x="216.92" y="368.1" font-size="17" text-anchor="middle">***</text>
<text x="244" y="368.1" font-size="17" text-anchor="middle">***</text>
<text x="271.08" y="368.1" font-size="17" text-anchor="middle">*</text>
<text x="297.86" y="365.6" font-size="17.3" text-anchor="middle">ns</text>
<text x="324.94" y="365.6" font-size="17.3" text-anchor="middle">ns</text>
<text x="352.02" y="365.6" font-size="17.3" text-anchor="middle">ns</text>
<text x="379.1" y="365.6" font-size="17.3" text-anchor="middle">ns</text>
<text x="406.18" y="365.6" font-size="17.3" text-anchor="middle">ns</text>
<text x="433.26" y="365.6" font-size="17.3" text-anchor="middle">ns</text>
<text x="460.34" y="365.6" font-size="17.3" text-anchor="middle">ns</text>
<text x="487.42" y="365.6" font-size="17.3" text-anchor="middle">ns</text>
<text x="514.5" y="365.6" font-size="17.3" text-anchor="middle">ns</text>
<text x="541.58" y="365.6" font-size="17.3" text-anchor="middle">ns</text>
<text x="568.66" y="365.6" font-size="17.3" text-anchor="middle">ns</text>
<text x="596.04" y="368.1" font-size="17" text-anchor="middle">***</text>
<text x="622.82" y="365.6" font-size="17.3" text-anchor="middle">ns</text>
<g stroke="#222" stroke-width="0.45">
<line x1="107.8" y1="392.88" x2="107.8" y2="417.32"/>
<line x1="107.8" y1="432.57" x2="107.8" y2="450.72"/>
<line x1="103.2" y1="392.88" x2="112.4" y2="392.88"/>
<line x1="103.2" y1="450.72" x2="112.4" y2="450.72"/>
</g>
<rect x="98.7" y="417.32" width="18.2" height="15.25" fill="#059346" stroke="#03210d" stroke-width="0.55"/>
<line x1="98.7" y1="425.31" x2="116.9" y2="425.31" stroke="#03210d" stroke-width="0.5"/>
<g fill="none" stroke="#000" stroke-width="0.8">
<circle cx="107.8" cy="392.9" r="1.45"/>
<circle cx="107.8" cy="450.7" r="1.45"/>
<circle cx="104.75" cy="392.5" r="1.45"/>
<circle cx="108.3" cy="392.34" r="1.45"/>
<circle cx="110.97" cy="392.93" r="1.45"/>
<circle cx="104.22" cy="396.01" r="1.45"/>
<circle cx="107.07" cy="395.87" r="1.45"/>
<circle cx="110.04" cy="395.18" r="1.45"/>
<circle cx="106.4" cy="399.45" r="1.45"/>
<circle cx="108.7" cy="398.25" r="1.45"/>
<circle cx="106.8" cy="402.5" r="1.45"/>
<circle cx="109.6" cy="401.39" r="1.45"/>
<circle cx="107.5" cy="403.49" r="1.45"/>
<circle cx="110.17" cy="403.98" r="1.45"/>
<circle cx="105.84" cy="406.44" r="1.45"/>
<circle cx="109.07" cy="407.83" r="1.45"/>
<circle cx="105.91" cy="410.16" r="1.45"/>
<circle cx="109.73" cy="409.74" r="1.45"/>
<circle cx="106.65" cy="411.93" r="1.45"/>
<circle cx="108.57" cy="412.21" r="1.45"/>
<circle cx="104.01" cy="415.46" r="1.45"/>
<circle cx="106.18" cy="415.77" r="1.45"/>
<circle cx="109.36" cy="415.2" r="1.45"/>
<circle cx="112.94" cy="416" r="1.45"/>
<circle cx="99.44" cy="417.72" r="1.45"/>
<circle cx="102.54" cy="418.2" r="1.45"/>
<circle cx="105.52" cy="417.26" r="1.45"/>
<circle cx="108.57" cy="416.99" r="1.45"/>
<circle cx="110.32" cy="418.01" r="1.45"/>
<circle cx="112.54" cy="417.58" r="1.45"/>
<circle cx="115.01" cy="417.87" r="1.45"/>
<circle cx="100.27" cy="419.59" r="1.45"/>
<circle cx="103.1" cy="419.18" r="1.45"/>
<circle cx="105.46" cy="419.63" r="1.45"/>
<circle cx="107.93" cy="419.4" r="1.45"/>
<circle cx="110.99" cy="420.19" r="1.45"/>
<circle cx="113.06" cy="419.74" r="1.45"/>
<circle cx="115.05" cy="419.8" r="1.45"/>
<circle cx="100.09" cy="422.14" r="1.45"/>
<circle cx="103.02" cy="421.01" r="1.45"/>
<circle cx="104.97" cy="421.62" r="1.45"/>
<circle cx="107.04" cy="421.29" r="1.45"/>
<circle cx="109.92" cy="420.74" r="1.45"/>
<circle cx="112.39" cy="421.78" r="1.45"/>
<circle cx="115.16" cy="420.95" r="1.45"/>
<circle cx="99.68" cy="423.82" r="1.45"/>
<circle cx="101.83" cy="423.14" r="1.45"/>
<circle cx="105.23" cy="423.84" r="1.45"/>
<circle cx="108.31" cy="423.81" r="1.45"/>
<circle cx="110.1" cy="423.09" r="1.45"/>
<circle cx="112.87" cy="423.84" r="1.45"/>
<circle cx="116.48" cy="422.67" r="1.45"/>
<circle cx="99.33" cy="424.67" r="1.45"/>
<circle cx="102.07" cy="425.08" r="1.45"/>
<circle cx="105.29" cy="424.72" r="1.45"/>
<circle cx="107.01" cy="424.97" r="1.45"/>
<circle cx="110.24" cy="425.21" r="1.45"/>
<circle cx="113.82" cy="425.4" r="1.45"/>
<circle cx="115.77" cy="425.29" r="1.45"/>
<circle cx="100.13" cy="426.26" r="1.45"/>
<circle cx="103.14" cy="427.42" r="1.45"/>
<circle cx="105.75" cy="427.45" r="1.45"/>
<circle cx="107.63" cy="426.81" r="1.45"/>
<circle cx="109.82" cy="427.19" r="1.45"/>
<circle cx="112.4" cy="426.28" r="1.45"/>
<circle cx="115.28" cy="426.43" r="1.45"/>
<circle cx="99.59" cy="428.13" r="1.45"/>
<circle cx="101.7" cy="428.29" r="1.45"/>
<circle cx="104.51" cy="428.63" r="1.45"/>
<circle cx="107.04" cy="429.45" r="1.45"/>
<circle cx="110.63" cy="428.29" r="1.45"/>
<circle cx="112.7" cy="428.61" r="1.45"/>
<circle cx="115.53" cy="428.25" r="1.45"/>
<circle cx="100.41" cy="431.51" r="1.45"/>
<circle cx="102.45" cy="430.7" r="1.45"/>
<circle cx="104.49" cy="430.09" r="1.45"/>
<circle cx="107.55" cy="430.35" r="1.45"/>
<circle cx="110.98" cy="430.18" r="1.45"/>
<circle cx="112.34" cy="431.45" r="1.45"/>
<circle cx="115.8" cy="430.16" r="1.45"/>
<circle cx="99.92" cy="431.84" r="1.45"/>
<circle cx="102.54" cy="433.37" r="1.45"/>
<circle cx="105.73" cy="432.91" r="1.45"/>
<circle cx="107.42" cy="432.39" r="1.45"/>
<circle cx="109.92" cy="433.04" r="1.45"/>
<circle cx="113.15" cy="433.05" r="1.45"/>
<circle cx="115.48" cy="432.16" r="1.45"/>
<circle cx="105.32" cy="435.77" r="1.45"/>
<circle cx="108.31" cy="435.41" r="1.45"/>
<circle cx="111.14" cy="435.28" r="1.45"/>
<circle cx="104.15" cy="437.44" r="1.45"/>
<circle cx="107.31" cy="436.46" r="1.45"/>
<circle cx="109.56" cy="436.96" r="1.45"/>
<circle cx="104.22" cy="440.39" r="1.45"/>
<circle cx="108.51" cy="439.89" r="1.45"/>
<circle cx="111.37" cy="440.98" r="1.45"/>
<circle cx="107.06" cy="442.33" r="1.45"/>
<circle cx="108.49" cy="442.05" r="1.45"/>
<circle cx="105.54" cy="444.61" r="1.45"/>
<circle cx="109.3" cy="446" r="1.45"/>
<circle cx="106.83" cy="447.76" r="1.45"/>
<circle cx="109.36" cy="448.4" r="1.45"/>
<circle cx="105.32" cy="450.72" r="1.45"/>
<circle cx="109.87" cy="450.96" r="1.45"/>
</g>
<g stroke="#222" stroke-width="0.45">
<line x1="135.06" y1="449.39" x2="135.06" y2="463.67"/>
<line x1="135.06" y1="473.35" x2="135.06" y2="480.85"/>
<line x1="130.46" y1="449.39" x2="139.66" y2="449.39"/>
<line x1="130.46" y1="480.85" x2="139.66" y2="480.85"/>
</g>
<rect x="125.96" y="463.67" width="18.2" height="9.68" fill="#059346" stroke="#03210d" stroke-width="0.55"/>
<line x1="125.96" y1="468.87" x2="144.16" y2="468.87" stroke="#03210d" stroke-width="0.5"/>
<g fill="none" stroke="#000" stroke-width="0.8">
<circle cx="135.1" cy="449.3" r="1.45"/>
<circle cx="135.4" cy="455.27" r="1.45"/>
<circle cx="134.71" cy="456.87" r="1.45"/>
<circle cx="134.9" cy="458.11" r="1.45"/>
<circle cx="135.67" cy="458.85" r="1.45"/>
<circle cx="133.78" cy="460.73" r="1.45"/>
<circle cx="136.57" cy="459.8" r="1.45"/>
<circle cx="132.25" cy="461" r="1.45"/>
<circle cx="135.59" cy="461.79" r="1.45"/>
<circle cx="137.08" cy="461.81" r="1.45"/>
<circle cx="133.28" cy="462.83" r="1.45"/>
<circle cx="134.92" cy="462.7" r="1.45"/>
<circle cx="137.06" cy="462.06" r="1.45"/>
<circle cx="132.07" cy="464.05" r="1.45"/>
<circle cx="133.93" cy="464.39" r="1.45"/>
<circle cx="136.22" cy="464.31" r="1.45"/>
<circle cx="139.09" cy="463.52" r="1.45"/>
<circle cx="130" cy="464.84" r="1.45"/>
<circle cx="132.39" cy="465.19" r="1.45"/>
<circle cx="134.81" cy="464.99" r="1.45"/>
<circle cx="137.06" cy="465.58" r="1.45"/>
<circle cx="139.72" cy="465.04" r="1.45"/>
<circle cx="129.2" cy="466.8" r="1.45"/>
<circle cx="131.4" cy="466.82" r="1.45"/>
<circle cx="133.9" cy="466.35" r="1.45"/>
<circle cx="136.33" cy="465.74" r="1.45"/>
<circle cx="138.63" cy="465.93" r="1.45"/>
<circle cx="140.5" cy="466.67" r="1.45"/>
<circle cx="128.71" cy="467.51" r="1.45"/>
<circle cx="131.77" cy="467.61" r="1.45"/>
<circle cx="133.69" cy="467.56" r="1.45"/>
<circle cx="136.37" cy="467.88" r="1.45"/>
<circle cx="138.23" cy="467.61" r="1.45"/>
<circle cx="140.8" cy="467.27" r="1.45"/>
<circle cx="128.23" cy="468.77" r="1.45"/>
<circle cx="130.37" cy="469.07" r="1.45"/>
<circle cx="133.19" cy="468.69" r="1.45"/>
<circle cx="135.24" cy="468.77" r="1.45"/>
<circle cx="137.51" cy="468.99" r="1.45"/>
<circle cx="139.84" cy="468.8" r="1.45"/>
<circle cx="142.27" cy="469.29" r="1.45"/>
<circle cx="126.94" cy="470.44" r="1.45"/>
<circle cx="129.63" cy="469.7" r="1.45"/>
<circle cx="131.57" cy="470.52" r="1.45"/>
<circle cx="134.31" cy="469.55" r="1.45"/>
<circle cx="135.85" cy="469.92" r="1.45"/>
<circle cx="138.19" cy="469.67" r="1.45"/>
<circle cx="140.59" cy="470.19" r="1.45"/>
<circle cx="143.84" cy="470.46" r="1.45"/>
<circle cx="127.49" cy="471.47" r="1.45"/>
<circle cx="130.49" cy="470.78" r="1.45"/>
<circle cx="133.16" cy="471.77" r="1.45"/>
<circle cx="134.76" cy="471.75" r="1.45"/>
<circle cx="137.38" cy="471.19" r="1.45"/>
<circle cx="140.49" cy="471.61" r="1.45"/>
<circle cx="141.89" cy="471.13" r="1.45"/>
<circle cx="127.92" cy="472.24" r="1.45"/>
<circle cx="129.93" cy="472.22" r="1.45"/>
<circle cx="132.97" cy="471.86" r="1.45"/>
<circle cx="135.16" cy="472.36" r="1.45"/>
<circle cx="136.92" cy="472.23" r="1.45"/>
<circle cx="140.05" cy="472.45" r="1.45"/>
<circle cx="141.78" cy="473.02" r="1.45"/>
<circle cx="129.45" cy="474.22" r="1.45"/>
<circle cx="131.03" cy="473.38" r="1.45"/>
<circle cx="133.35" cy="473.99" r="1.45"/>
<circle cx="136.02" cy="473.21" r="1.45"/>
<circle cx="138.61" cy="474.15" r="1.45"/>
<circle cx="141.48" cy="473.37" r="1.45"/>
<circle cx="129.88" cy="475.38" r="1.45"/>
<circle cx="132.78" cy="475.12" r="1.45"/>
<circle cx="134.61" cy="474.35" r="1.45"/>
<circle cx="137.73" cy="474.79" r="1.45"/>
<circle cx="139.39" cy="475.41" r="1.45"/>
<circle cx="131.66" cy="476.47" r="1.45"/>
<circle cx="133.4" cy="476.53" r="1.45"/>
<circle cx="135.78" cy="476.54" r="1.45"/>
<circle cx="138.64" cy="475.91" r="1.45"/>
<circle cx="131.56" cy="477.84" r="1.45"/>
<circle cx="133.62" cy="476.88" r="1.45"/>
<circle cx="136.33" cy="477.01" r="1.45"/>
<circle cx="138.23" cy="476.92" r="1.45"/>
<circle cx="132.16" cy="478.19" r="1.45"/>
<circle cx="134.87" cy="478.32" r="1.45"/>
<circle cx="137.81" cy="478.3" r="1.45"/>
<circle cx="133.9" cy="479.39" r="1.45"/>
<circle cx="136.12" cy="479.2" r="1.45"/>
<circle cx="134.8" cy="480.42" r="1.45"/>
</g>
<g stroke="#222" stroke-width="0.45">
<line x1="162.32" y1="439.95" x2="162.32" y2="439.95"/>
<line x1="162.32" y1="460.04" x2="162.32" y2="464.51"/>
<line x1="157.72" y1="439.95" x2="166.92" y2="439.95"/>
<line x1="157.72" y1="464.51" x2="166.92" y2="464.51"/>
</g>
<rect x="153.22" y="439.95" width="18.2" height="20.09" fill="#059346" stroke="#03210d" stroke-width="0.55"/>
<line x1="153.22" y1="457.74" x2="171.42" y2="457.74" stroke="#03210d" stroke-width="0.5"/>
<g fill="none" stroke="#000" stroke-width="0.8">
<circle cx="156.28" cy="439.89" r="1.45"/>
<circle cx="162.55" cy="439.89" r="1.45"/>
<circle cx="168.33" cy="439.89" r="1.45"/>
<circle cx="159.54" cy="455.7" r="1.45"/>
<circle cx="165.57" cy="455.7" r="1.45"/>
<circle cx="155.02" cy="458.72" r="1.45"/>
<circle cx="161.3" cy="458.72" r="1.45"/>
<circle cx="168.33" cy="458.72" r="1.45"/>
<circle cx="161.3" cy="463.99" r="1.45"/>
<circle cx="165.57" cy="463.99" r="1.45"/>
</g>
<g stroke="#222" stroke-width="0.45">
<line x1="189.58" y1="422.29" x2="189.58" y2="425.55"/>
<line x1="189.58" y1="447.7" x2="189.58" y2="461.49"/>
<line x1="184.98" y1="422.29" x2="194.18" y2="422.29"/>
<line x1="184.98" y1="461.49" x2="194.18" y2="461.49"/>
</g>
<rect x="180.48" y="425.55" width="18.2" height="22.14" fill="#059346" stroke="#03210d" stroke-width="0.55"/>
<line x1="180.48" y1="430.15" x2="198.68" y2="430.15" stroke="#03210d" stroke-width="0.5"/>
<g fill="none" stroke="#000" stroke-width="0.8">
<circle cx="186.91" cy="422.31" r="1.45"/>
<circle cx="186.91" cy="424.82" r="1.45"/>
<circle cx="192.68" cy="424.82" r="1.45"/>
<circle cx="189.67" cy="425.58" r="1.45"/>
<circle cx="186.91" cy="429.34" r="1.45"/>
<circle cx="189.67" cy="441.9" r="1.45"/>
<circle cx="186.91" cy="447.67" r="1.45"/>
<circle cx="192.68" cy="447.67" r="1.45"/>
<circle cx="189.67" cy="461.48" r="1.45"/>
</g>
<g stroke="#222" stroke-width="0.45">
<line x1="216.84" y1="404.26" x2="216.84" y2="432.09"/>
<line x1="216.84" y1="453.75" x2="216.84" y2="458.95"/>
<line x1="212.24" y1="404.26" x2="221.44" y2="404.26"/>
<line x1="212.24" y1="458.95" x2="221.44" y2="458.95"/>
</g>
<rect x="207.74" y="432.09" width="18.2" height="21.66" fill="#059346" stroke="#03210d" stroke-width="0.55"/>
<line x1="207.74" y1="445.64" x2="225.94" y2="445.64" stroke="#03210d" stroke-width="0.5"/>
<g fill="none" stroke="#000" stroke-width="0.8">
<circle cx="216.78" cy="404.24" r="1.45"/>
<circle cx="216.78" cy="415.53" r="1.45"/>
<circle cx="216.78" cy="426.83" r="1.45"/>
<circle cx="216.78" cy="429.34" r="1.45"/>
<circle cx="221.55" cy="434.36" r="1.45"/>
<circle cx="214.02" cy="435.62" r="1.45"/>
<circle cx="216.78" cy="440.64" r="1.45"/>
<circle cx="212.77" cy="444.41" r="1.45"/>
<circle cx="219.04" cy="445.66" r="1.45"/>
<circle cx="214.02" cy="448.67" r="1.45"/>
<circle cx="219.04" cy="449.43" r="1.45"/>
<circle cx="210.26" cy="452.44" r="1.45"/>
<circle cx="214.02" cy="454.45" r="1.45"/>
<circle cx="216.78" cy="454.45" r="1.45"/>
<circle cx="220.3" cy="454.45" r="1.45"/>
<circle cx="224.57" cy="454.45" r="1.45"/>
<circle cx="216.78" cy="458.97" r="1.45"/>
</g>
<g stroke="#222" stroke-width="0.45">
<line x1="244.1" y1="433.66" x2="244.1" y2="439.83"/>
<line x1="244.1" y1="454.35" x2="244.1" y2="464.03"/>
<line x1="239.5" y1="433.66" x2="248.7" y2="433.66"/>
<line x1="239.5" y1="464.03" x2="248.7" y2="464.03"/>
</g>
<rect x="235" y="439.83" width="18.2" height="14.52" fill="#059346" stroke="#03210d" stroke-width="0.55"/>
<line x1="235" y1="447.7" x2="253.2" y2="447.7" stroke="#03210d" stroke-width="0.5"/>
<g fill="none" stroke="#000" stroke-width="0.8">
<circle cx="244.15" cy="433.61" r="1.45"/>
<circle cx="247.16" cy="433.11" r="1.45"/>
<circle cx="237.87" cy="438.13" r="1.45"/>
<circle cx="241.64" cy="440.64" r="1.45"/>
<circle cx="247.92" cy="439.38" r="1.45"/>
<circle cx="241.64" cy="445.66" r="1.45"/>
<circle cx="246.66" cy="445.66" r="1.45"/>
<circle cx="251.68" cy="448.67" r="1.45"/>
<circle cx="237.87" cy="450.68" r="1.45"/>
<circle cx="241.64" cy="450.68" r="1.45"/>
<circle cx="246.66" cy="450.68" r="1.45"/>
<circle cx="241.64" cy="454.45" r="1.45"/>
<circle cx="246.66" cy="454.45" r="1.45"/>
<circle cx="251.68" cy="454.45" r="1.45"/>
<circle cx="244.15" cy="458.21" r="1.45"/>
<circle cx="244.15" cy="463.99" r="1.45"/>
</g>
<g stroke="#222" stroke-width="0.45">
<line x1="271.36" y1="437.41" x2="271.36" y2="451.45"/>
<line x1="271.36" y1="462.7" x2="271.36" y2="471.29"/>
<line x1="266.76" y1="437.41" x2="275.96" y2="437.41"/>
<line x1="266.76" y1="471.29" x2="275.96" y2="471.29"/>
</g>
<rect x="262.26" y="451.45" width="18.2" height="11.25" fill="#059346" stroke="#03210d" stroke-width="0.55"/>
<line x1="262.26" y1="457.74" x2="280.46" y2="457.74" stroke="#03210d" stroke-width="0.5"/>
<g fill="none" stroke="#000" stroke-width="0.8">
<circle cx="271.77" cy="437.38" r="1.45"/>
<circle cx="271.77" cy="447.42" r="1.45"/>
<circle cx="268" cy="451.19" r="1.45"/>
<circle cx="265.49" cy="455.7" r="1.45"/>
<circle cx="271.77" cy="455.2" r="1.45"/>
<circle cx="278.04" cy="454.45" r="1.45"/>
<circle cx="269.26" cy="460.73" r="1.45"/>
<circle cx="274.28" cy="460.73" r="1.45"/>
<circle cx="268.5" cy="463.99" r="1.45"/>
<circle cx="271.77" cy="465.75" r="1.45"/>
<circle cx="271.77" cy="471.27" r="1.45"/>
</g>
<g stroke="#222" stroke-width="0.45">
<line x1="298.62" y1="441.89" x2="298.62" y2="460.4"/>
<line x1="298.62" y1="472.5" x2="298.62" y2="478.31"/>
<line x1="294.02" y1="441.89" x2="303.22" y2="441.89"/>
<line x1="294.02" y1="478.31" x2="303.22" y2="478.31"/>
</g>
<rect x="289.52" y="460.4" width="18.2" height="12.1" fill="#059346" stroke="#03210d" stroke-width="0.55"/>
<line x1="289.52" y1="467.06" x2="307.72" y2="467.06" stroke="#03210d" stroke-width="0.5"/>
<g fill="none" stroke="#000" stroke-width="0.8">
<circle cx="298.63" cy="441.9" r="1.45"/>
<circle cx="298.63" cy="458.72" r="1.45"/>
<circle cx="304.41" cy="458.72" r="1.45"/>
<circle cx="293.11" cy="463.24" r="1.45"/>
<circle cx="298.63" cy="463.24" r="1.45"/>
<circle cx="293.11" cy="468.76" r="1.45"/>
<circle cx="300.64" cy="467.76" r="1.45"/>
<circle cx="293.11" cy="471.27" r="1.45"/>
<circle cx="298.63" cy="472.53" r="1.45"/>
<circle cx="298.63" cy="476.29" r="1.45"/>
<circle cx="293.11" cy="478.8" r="1.45"/>
<circle cx="304.41" cy="476.29" r="1.45"/>
</g>
<g stroke="#222" stroke-width="0.45">
<line x1="325.88" y1="434.87" x2="325.88" y2="452.41"/>
<line x1="325.88" y1="466.45" x2="325.88" y2="473.83"/>
<line x1="321.28" y1="434.87" x2="330.48" y2="434.87"/>
<line x1="321.28" y1="473.83" x2="330.48" y2="473.83"/>
</g>
<rect x="316.78" y="452.41" width="18.2" height="14.04" fill="#059346" stroke="#03210d" stroke-width="0.55"/>
<line x1="316.78" y1="460.76" x2="334.98" y2="460.76" stroke="#03210d" stroke-width="0.5"/>
<g fill="none" stroke="#000" stroke-width="0.8">
<circle cx="326.32" cy="434.87" r="1.45"/>
<circle cx="326.32" cy="445.16" r="1.45"/>
<circle cx="320.04" cy="451.94" r="1.45"/>
<circle cx="326.32" cy="453.7" r="1.45"/>
<circle cx="320.04" cy="458.72" r="1.45"/>
<circle cx="332.09" cy="456.96" r="1.45"/>
<circle cx="326.32" cy="461.98" r="1.45"/>
<circle cx="332.09" cy="461.98" r="1.45"/>
<circle cx="320.04" cy="464.49" r="1.45"/>
<circle cx="326.32" cy="468.26" r="1.45"/>
<circle cx="326.32" cy="473.78" r="1.45"/>
</g>
<g stroke="#222" stroke-width="0.45">
<line x1="353.14" y1="443.1" x2="353.14" y2="458.22"/>
<line x1="353.14" y1="470.81" x2="353.14" y2="478.31"/>
<line x1="348.54" y1="443.1" x2="357.74" y2="443.1"/>
<line x1="348.54" y1="478.31" x2="357.74" y2="478.31"/>
</g>
<rect x="344.04" y="458.22" width="18.2" height="12.58" fill="#059346" stroke="#03210d" stroke-width="0.55"/>
<line x1="344.04" y1="463.79" x2="362.24" y2="463.79" stroke="#03210d" stroke-width="0.5"/>
<g fill="none" stroke="#000" stroke-width="0.8">
<circle cx="353.43" cy="443.15" r="1.45"/>
<circle cx="353.43" cy="452.69" r="1.45"/>
<circle cx="347.16" cy="457.71" r="1.45"/>
<circle cx="353.43" cy="458.21" r="1.45"/>
<circle cx="347.16" cy="461.98" r="1.45"/>
<circle cx="353.43" cy="462.73" r="1.45"/>
<circle cx="359.46" cy="461.98" r="1.45"/>
<circle cx="347.16" cy="469.51" r="1.45"/>
<circle cx="353.43" cy="469.51" r="1.45"/>
<circle cx="359.46" cy="469.51" r="1.45"/>
<circle cx="353.43" cy="475.79" r="1.45"/>
<circle cx="353.43" cy="478.3" r="1.45"/>
</g>
<g stroke="#222" stroke-width="0.45">
<line x1="380.4" y1="454.47" x2="380.4" y2="465"/>
<line x1="380.4" y1="477.82" x2="380.4" y2="478.31"/>
<line x1="375.8" y1="454.47" x2="385" y2="454.47"/>
<line x1="375.8" y1="478.31" x2="385" y2="478.31"/>
</g>
<rect x="371.3" y="465" width="18.2" height="12.83" fill="#059346" stroke="#03210d" stroke-width="0.55"/>
<line x1="371.3" y1="470.32" x2="389.5" y2="470.32" stroke="#03210d" stroke-width="0.5"/>
<g fill="none" stroke="#000" stroke-width="0.8">
<circle cx="380.8" cy="454.45" r="1.45"/>
<circle cx="377.79" cy="463.99" r="1.45"/>
<circle cx="382.81" cy="463.99" r="1.45"/>
<circle cx="372.77" cy="468.76" r="1.45"/>
<circle cx="380.8" cy="468.76" r="1.45"/>
<circle cx="386.58" cy="468.76" r="1.45"/>
<circle cx="377.79" cy="475.29" r="1.45"/>
<circle cx="385.32" cy="475.79" r="1.45"/>
<circle cx="372.77" cy="478.8" r="1.45"/>
<circle cx="380.8" cy="477.8" r="1.45"/>
<circle cx="388.33" cy="477.04" r="1.45"/>
</g>
<g stroke="#222" stroke-width="0.45">
<line x1="407.66" y1="462.7" x2="407.66" y2="471.29"/>
<line x1="407.66" y1="477.58" x2="407.66" y2="480.85"/>
<line x1="403.06" y1="462.7" x2="412.26" y2="462.7"/>
<line x1="403.06" y1="480.85" x2="412.26" y2="480.85"/>
</g>
<rect x="398.56" y="471.29" width="18.2" height="6.29" fill="#059346" stroke="#03210d" stroke-width="0.55"/>
<line x1="398.56" y1="474.92" x2="416.76" y2="474.92" stroke="#03210d" stroke-width="0.5"/>
<g fill="none" stroke="#000" stroke-width="0.8">
<circle cx="411.68" cy="462.73" r="1.45"/>
<circle cx="407.92" cy="464.49" r="1.45"/>
<circle cx="404.15" cy="472.02" r="1.45"/>
<circle cx="409.67" cy="472.02" r="1.45"/>
<circle cx="400.38" cy="475.29" r="1.45"/>
<circle cx="406.66" cy="475.29" r="1.45"/>
<circle cx="414.19" cy="475.29" r="1.45"/>
<circle cx="404.15" cy="478.8" r="1.45"/>
<circle cx="410.43" cy="478.8" r="1.45"/>
<circle cx="404.15" cy="481.31" r="1.45"/>
</g>
<g stroke="#222" stroke-width="0.45">
<line x1="434.92" y1="450.72" x2="434.92" y2="468.75"/>
<line x1="434.92" y1="480.37" x2="434.92" y2="480.85"/>
<line x1="430.32" y1="450.72" x2="439.52" y2="450.72"/>
<line x1="430.32" y1="480.85" x2="439.52" y2="480.85"/>
</g>
<rect x="425.82" y="468.75" width="18.2" height="11.62" fill="#059346" stroke="#03210d" stroke-width="0.55"/>
<line x1="425.82" y1="475.77" x2="444.02" y2="475.77" stroke="#03210d" stroke-width="0.5"/>
<g fill="none" stroke="#000" stroke-width="0.8">
<circle cx="435.03" cy="450.68" r="1.45"/>
<circle cx="440.55" cy="467.76" r="1.45"/>
<circle cx="430.01" cy="469.51" r="1.45"/>
<circle cx="435.03" cy="469.51" r="1.45"/>
<circle cx="428" cy="475.79" r="1.45"/>
<circle cx="435.03" cy="475.29" r="1.45"/>
<circle cx="442.31" cy="475.79" r="1.45"/>
<circle cx="430.01" cy="478.8" r="1.45"/>
<circle cx="438.04" cy="478.8" r="1.45"/>
<circle cx="427.5" cy="481.31" r="1.45"/>
<circle cx="435.03" cy="481.31" r="1.45"/>
<circle cx="438.04" cy="481.31" r="1.45"/>
</g>
<g stroke="#222" stroke-width="0.45">
<line x1="462.18" y1="460.04" x2="462.18" y2="465.72"/>
<line x1="462.18" y1="475.28" x2="462.18" y2="483.39"/>
<line x1="457.58" y1="460.04" x2="466.78" y2="460.04"/>
<line x1="457.58" y1="483.39" x2="466.78" y2="483.39"/>
</g>
<rect x="453.08" y="465.72" width="18.2" height="9.56" fill="#059346" stroke="#03210d" stroke-width="0.55"/>
<line x1="453.08" y1="470.32" x2="471.28" y2="470.32" stroke="#03210d" stroke-width="0.5"/>
<g fill="none" stroke="#000" stroke-width="0.8">
<circle cx="462.4" cy="459.97" r="1.45"/>
<circle cx="456.87" cy="465.75" r="1.45"/>
<circle cx="468.17" cy="465.75" r="1.45"/>
<circle cx="462.4" cy="468.76" r="1.45"/>
<circle cx="456.87" cy="470.27" r="1.45"/>
<circle cx="468.17" cy="470.27" r="1.45"/>
<circle cx="462.4" cy="473.28" r="1.45"/>
<circle cx="462.4" cy="477.8" r="1.45"/>
<circle cx="462.4" cy="483.32" r="1.45"/>
</g>
<g stroke="#222" stroke-width="0.45">
<line x1="489.44" y1="453.75" x2="489.44" y2="465"/>
<line x1="489.44" y1="472.02" x2="489.44" y2="478.31"/>
<line x1="484.84" y1="453.75" x2="494.04" y2="453.75"/>
<line x1="484.84" y1="478.31" x2="494.04" y2="478.31"/>
</g>
<rect x="480.34" y="465" width="18.2" height="7.02" fill="#059346" stroke="#03210d" stroke-width="0.55"/>
<line x1="480.34" y1="468.75" x2="498.54" y2="468.75" stroke="#03210d" stroke-width="0.5"/>
<g fill="none" stroke="#000" stroke-width="0.8">
<circle cx="489.58" cy="453.7" r="1.45"/>
<circle cx="492.09" cy="461.98" r="1.45"/>
<circle cx="486.32" cy="463.99" r="1.45"/>
<circle cx="482.55" cy="468.26" r="1.45"/>
<circle cx="488.08" cy="468.26" r="1.45"/>
<circle cx="493.85" cy="468.26" r="1.45"/>
<circle cx="497.12" cy="468.26" r="1.45"/>
<circle cx="486.32" cy="470.77" r="1.45"/>
<circle cx="493.85" cy="471.27" r="1.45"/>
<circle cx="487.57" cy="478.3" r="1.45"/>
<circle cx="492.6" cy="477.04" r="1.45"/>
</g>
<g stroke="#222" stroke-width="0.45">
<line x1="516.7" y1="468.27" x2="516.7" y2="470.81"/>
<line x1="516.7" y1="476.98" x2="516.7" y2="476.98"/>
<line x1="512.1" y1="468.27" x2="521.3" y2="468.27"/>
<line x1="512.1" y1="476.98" x2="521.3" y2="476.98"/>
</g>
<rect x="507.6" y="470.81" width="18.2" height="6.17" fill="#059346" stroke="#03210d" stroke-width="0.55"/>
<line x1="507.6" y1="474.92" x2="525.8" y2="474.92" stroke="#03210d" stroke-width="0.5"/>
<g fill="none" stroke="#000" stroke-width="0.8">
<circle cx="513.94" cy="470.27" r="1.45"/>
<circle cx="523.98" cy="468.76" r="1.45"/>
<circle cx="510.17" cy="473.28" r="1.45"/>
<circle cx="515.19" cy="473.78" r="1.45"/>
<circle cx="520.21" cy="473.28" r="1.45"/>
<circle cx="523.98" cy="473.28" r="1.45"/>
<circle cx="510.17" cy="476.29" r="1.45"/>
<circle cx="515.19" cy="476.29" r="1.45"/>
<circle cx="520.21" cy="476.29" r="1.45"/>
<circle cx="523.98" cy="476.29" r="1.45"/>
</g>
<g stroke="#222" stroke-width="0.45">
<line x1="543.96" y1="443.22" x2="543.96" y2="458.95"/>
<line x1="543.96" y1="476.25" x2="543.96" y2="476.25"/>
<line x1="539.36" y1="443.22" x2="548.56" y2="443.22"/>
<line x1="539.36" y1="476.25" x2="548.56" y2="476.25"/>
</g>
<rect x="534.86" y="458.95" width="18.2" height="17.3" fill="#059346" stroke="#03210d" stroke-width="0.55"/>
<line x1="534.86" y1="470.32" x2="553.06" y2="470.32" stroke="#03210d" stroke-width="0.5"/>
<g fill="none" stroke="#000" stroke-width="0.8">
<circle cx="544.06" cy="443.15" r="1.45"/>
<circle cx="544.06" cy="453.19" r="1.45"/>
<circle cx="541.55" cy="461.98" r="1.45"/>
<circle cx="545.32" cy="466.25" r="1.45"/>
<circle cx="541.55" cy="468.76" r="1.45"/>
<circle cx="536.53" cy="475.79" r="1.45"/>
<circle cx="541.55" cy="475.29" r="1.45"/>
<circle cx="545.32" cy="475.29" r="1.45"/>
<circle cx="549.09" cy="475.29" r="1.45"/>
<circle cx="551.6" cy="475.29" r="1.45"/>
</g>
<g stroke="#222" stroke-width="0.45">
<line x1="571.22" y1="457.5" x2="571.22" y2="467.06"/>
<line x1="571.22" y1="474.56" x2="571.22" y2="476.98"/>
<line x1="566.62" y1="457.5" x2="575.82" y2="457.5"/>
<line x1="566.62" y1="476.98" x2="575.82" y2="476.98"/>
</g>
<rect x="562.12" y="467.06" width="18.2" height="7.5" fill="#059346" stroke="#03210d" stroke-width="0.55"/>
<line x1="562.12" y1="470.32" x2="580.32" y2="470.32" stroke="#03210d" stroke-width="0.5"/>
<g fill="none" stroke="#000" stroke-width="0.8">
<circle cx="571.18" cy="457.46" r="1.45"/>
<circle cx="571.18" cy="465.75" r="1.45"/>
<circle cx="565.41" cy="468.76" r="1.45"/>
<circle cx="571.18" cy="468.26" r="1.45"/>
<circle cx="576.7" cy="468.76" r="1.45"/>
<circle cx="565.41" cy="471.27" r="1.45"/>
<circle cx="571.18" cy="471.27" r="1.45"/>
<circle cx="569.17" cy="476.54" r="1.45"/>
<circle cx="574.19" cy="476.54" r="1.45"/>
</g>
<g stroke="#222" stroke-width="0.45">
<line x1="598.48" y1="442.37" x2="598.48" y2="447.45"/>
<line x1="598.48" y1="460.76" x2="598.48" y2="469.48"/>
<line x1="593.88" y1="442.37" x2="603.08" y2="442.37"/>
<line x1="593.88" y1="469.48" x2="603.08" y2="469.48"/>
</g>
<rect x="589.38" y="447.45" width="18.2" height="13.31" fill="#059346" stroke="#03210d" stroke-width="0.55"/>
<line x1="589.38" y1="453.75" x2="607.58" y2="453.75" stroke="#03210d" stroke-width="0.5"/>
<g fill="none" stroke="#000" stroke-width="0.8">
<circle cx="598.8" cy="442.4" r="1.45"/>
<circle cx="591.77" cy="448.17" r="1.45"/>
<circle cx="595.53" cy="448.67" r="1.45"/>
<circle cx="600.55" cy="448.67" r="1.45"/>
<circle cx="605.58" cy="448.67" r="1.45"/>
<circle cx="594.28" cy="453.19" r="1.45"/>
<circle cx="600.55" cy="452.69" r="1.45"/>
<circle cx="595.53" cy="456.21" r="1.45"/>
<circle cx="601.81" cy="456.21" r="1.45"/>
<circle cx="598.8" cy="460.73" r="1.45"/>
<circle cx="598.8" cy="464.49" r="1.45"/>
<circle cx="595.53" cy="469.51" r="1.45"/>
<circle cx="601.81" cy="469.51" r="1.45"/>
</g>
<g stroke="#222" stroke-width="0.45">
<line x1="625.74" y1="444.91" x2="625.74" y2="453.87"/>
<line x1="625.74" y1="469.48" x2="625.74" y2="470.81"/>
<line x1="621.14" y1="444.91" x2="630.34" y2="444.91"/>
<line x1="621.14" y1="470.81" x2="630.34" y2="470.81"/>
</g>
<rect x="616.64" y="453.87" width="18.2" height="15.61" fill="#059346" stroke="#03210d" stroke-width="0.55"/>
<line x1="616.64" y1="462.7" x2="634.84" y2="462.7" stroke="#03210d" stroke-width="0.5"/>
<g fill="none" stroke="#000" stroke-width="0.8">
<circle cx="624.41" cy="444.91" r="1.45"/>
<circle cx="628.67" cy="445.66" r="1.45"/>
<circle cx="625.66" cy="453.19" r="1.45"/>
<circle cx="629.43" cy="453.7" r="1.45"/>
<circle cx="621.9" cy="456.96" r="1.45"/>
<circle cx="627.67" cy="458.72" r="1.45"/>
<circle cx="618.13" cy="461.98" r="1.45"/>
<circle cx="623.15" cy="462.73" r="1.45"/>
<circle cx="629.43" cy="461.98" r="1.45"/>
<circle cx="633.19" cy="462.73" r="1.45"/>
<circle cx="618.13" cy="468.76" r="1.45"/>
<circle cx="623.65" cy="469.51" r="1.45"/>
<circle cx="629.43" cy="469.51" r="1.45"/>
<circle cx="633.19" cy="468.76" r="1.45"/>
<circle cx="618.13" cy="471.27" r="1.45"/>
</g>
<text x="89.2" y="505.5" font-size="15.9" text-anchor="end" font-style="italic">ser-7</text>
<text x="95.1" y="519.8" font-size="15.85" text-anchor="end">rescue</text>
<line x1="105" y1="499.2" x2="110.6" y2="499.2" stroke="#000" stroke-width="1.7"/>
<line x1="132.26" y1="499.2" x2="137.86" y2="499.2" stroke="#000" stroke-width="1.7"/>
<line x1="158.12" y1="498.8" x2="166.52" y2="498.8" stroke="#000" stroke-width="1.4"/>
<line x1="162.32" y1="494.6" x2="162.32" y2="503" stroke="#000" stroke-width="1.4"/>
<line x1="185.38" y1="498.8" x2="193.78" y2="498.8" stroke="#000" stroke-width="1.4"/>
<line x1="189.58" y1="494.6" x2="189.58" y2="503" stroke="#000" stroke-width="1.4"/>
<line x1="212.64" y1="498.8" x2="221.04" y2="498.8" stroke="#000" stroke-width="1.4"/>
<line x1="216.84" y1="494.6" x2="216.84" y2="503" stroke="#000" stroke-width="1.4"/>
<line x1="239.9" y1="498.8" x2="248.3" y2="498.8" stroke="#000" stroke-width="1.4"/>
<line x1="244.1" y1="494.6" x2="244.1" y2="503" stroke="#000" stroke-width="1.4"/>
<line x1="267.16" y1="498.8" x2="275.56" y2="498.8" stroke="#000" stroke-width="1.4"/>
<line x1="271.36" y1="494.6" x2="271.36" y2="503" stroke="#000" stroke-width="1.4"/>
<line x1="294.42" y1="498.8" x2="302.82" y2="498.8" stroke="#000" stroke-width="1.4"/>
<line x1="298.62" y1="494.6" x2="298.62" y2="503" stroke="#000" stroke-width="1.4"/>
<line x1="321.68" y1="498.8" x2="330.08" y2="498.8" stroke="#000" stroke-width="1.4"/>
<line x1="325.88" y1="494.6" x2="325.88" y2="503" stroke="#000" stroke-width="1.4"/>
<line x1="348.94" y1="498.8" x2="357.34" y2="498.8" stroke="#000" stroke-width="1.4"/>
<line x1="353.14" y1="494.6" x2="353.14" y2="503" stroke="#000" stroke-width="1.4"/>
<line x1="376.2" y1="498.8" x2="384.6" y2="498.8" stroke="#000" stroke-width="1.4"/>
<line x1="380.4" y1="494.6" x2="380.4" y2="503" stroke="#000" stroke-width="1.4"/>
<line x1="403.46" y1="498.8" x2="411.86" y2="498.8" stroke="#000" stroke-width="1.4"/>
<line x1="407.66" y1="494.6" x2="407.66" y2="503" stroke="#000" stroke-width="1.4"/>
<line x1="430.72" y1="498.8" x2="439.12" y2="498.8" stroke="#000" stroke-width="1.4"/>
<line x1="434.92" y1="494.6" x2="434.92" y2="503" stroke="#000" stroke-width="1.4"/>
<line x1="457.98" y1="498.8" x2="466.38" y2="498.8" stroke="#000" stroke-width="1.4"/>
<line x1="462.18" y1="494.6" x2="462.18" y2="503" stroke="#000" stroke-width="1.4"/>
<line x1="485.24" y1="498.8" x2="493.64" y2="498.8" stroke="#000" stroke-width="1.4"/>
<line x1="489.44" y1="494.6" x2="489.44" y2="503" stroke="#000" stroke-width="1.4"/>
<line x1="512.5" y1="498.8" x2="520.9" y2="498.8" stroke="#000" stroke-width="1.4"/>
<line x1="516.7" y1="494.6" x2="516.7" y2="503" stroke="#000" stroke-width="1.4"/>
<line x1="539.76" y1="498.8" x2="548.16" y2="498.8" stroke="#000" stroke-width="1.4"/>
<line x1="543.96" y1="494.6" x2="543.96" y2="503" stroke="#000" stroke-width="1.4"/>
<line x1="567.02" y1="498.8" x2="575.42" y2="498.8" stroke="#000" stroke-width="1.4"/>
<line x1="571.22" y1="494.6" x2="571.22" y2="503" stroke="#000" stroke-width="1.4"/>
<line x1="594.28" y1="498.8" x2="602.68" y2="498.8" stroke="#000" stroke-width="1.4"/>
<line x1="598.48" y1="494.6" x2="598.48" y2="503" stroke="#000" stroke-width="1.4"/>
<line x1="621.54" y1="498.8" x2="629.94" y2="498.8" stroke="#000" stroke-width="1.4"/>
<line x1="625.74" y1="494.6" x2="625.74" y2="503" stroke="#000" stroke-width="1.4"/>
<text x="154.8" y="520.2" font-size="13.5" font-style="italic">ceh-45::</text>
<text x="162.3" y="537" font-size="13.5" font-style="italic">ser-7</text>
<text x="215.1" y="520.2" font-size="13.5" font-style="italic">lgc-8::</text>
<text x="215.1" y="537" font-size="13.5" font-style="italic">ser-7</text>
<text x="269.8" y="520.2" font-size="13.5" font-style="italic">del-7::</text>
<text x="270.8" y="537" font-size="13.5" font-style="italic">ser-7</text>
<text x="320" y="520.2" font-size="13.5" font-style="italic">ceh-28::</text>
<text x="328.1" y="537" font-size="13.5" font-style="italic">ser-7</text>
<text x="372.1" y="520.2" font-size="13.5" font-style="italic">ceh-19::</text>
<text x="380.1" y="537" font-size="13.5" font-style="italic">ser-7</text>
<text x="535.1" y="520.2" font-size="13.5" font-style="italic">ceh-53::</text>
<text x="542.2" y="537" font-size="13.5" font-style="italic">ser-7</text>
<text x="593.6" y="520.2" font-size="13.5" font-style="italic">flp-15::</text>
<text x="597.9" y="537" font-size="13.5" font-style="italic">ser-7</text>
<line x1="95.8" y1="543.5" x2="117.1" y2="543.5" stroke="#000" stroke-width="1.2"/>
<line x1="126.2" y1="543.5" x2="147.2" y2="543.5" stroke="#000" stroke-width="1.2"/>
<line x1="158" y1="543.5" x2="196.6" y2="543.5" stroke="#000" stroke-width="1.2"/>
<line x1="210.8" y1="543.5" x2="249.8" y2="543.5" stroke="#000" stroke-width="1.2"/>
<line x1="267.8" y1="543.5" x2="306.7" y2="543.5" stroke="#000" stroke-width="1.2"/>
<line x1="324.3" y1="543.5" x2="363.8" y2="543.5" stroke="#000" stroke-width="1.2"/>
<line x1="376.4" y1="543.5" x2="415.8" y2="543.5" stroke="#000" stroke-width="1.2"/>
<line x1="433.4" y1="543.5" x2="472.3" y2="543.5" stroke="#000" stroke-width="1.2"/>
<line x1="482.6" y1="543.5" x2="521.3" y2="543.5" stroke="#000" stroke-width="1.2"/>
<line x1="538.9" y1="543.5" x2="578.3" y2="543.5" stroke="#000" stroke-width="1.2"/>
<line x1="595.9" y1="543.5" x2="635.1" y2="543.5" stroke="#000" stroke-width="1.2"/>
<text x="96.2" y="561.7" font-size="14.0">WT</text>
<text x="120.1" y="561.7" font-size="13.9" font-style="italic">ser-7</text>
<text x="170.4" y="561.2" font-size="13.5">MI</text>
<text x="170.4" y="575.3" font-size="13.5">I1</text>
<text x="170.4" y="589.4" font-size="13.5">I3</text>
<text x="222.6" y="561.3" font-size="13.5">I1</text>
<text x="271.6" y="561.6" font-size="13.5">NSM</text>
<text x="333.1" y="561.6" font-size="13.5">M4</text>
<text x="387.7" y="561.6" font-size="13.5">MC</text>
<text x="442.1" y="561.6" font-size="13.5">MC</text>
<text x="442.1" y="575.4" font-size="13.5">M4</text>
<text x="491.1" y="561.6" font-size="13.5">NSM</text>
<text x="495.6" y="575.4" font-size="13.5">M4</text>
<text x="550.7" y="561.6" font-size="13.5">M4</text>
<text x="550.7" y="575.4" font-size="13.5">I5</text>
<text x="611" y="561.6" font-size="13.5">I2</text>
<line x1="164.8" y1="602.3" x2="240.7" y2="602.3" stroke="#000" stroke-width="1.2"/>
<line x1="268.3" y1="602.3" x2="628" y2="602.3" stroke="#000" stroke-width="1.2"/>
<text x="154.8" y="619.8" font-size="13.6">I1 neuron related</text>
<text x="323.6" y="620" font-size="13.6">pharyngeal pumping related or control</text>
</g>
<g id="panel-d">
<text x="-0.6" y="673.9" font-size="28" font-weight="bold">d</text>
<circle cx="45.2" cy="685" r="19" fill="#e6e7e8" stroke="#555" stroke-width="0.8"/>
<circle cx="87.9" cy="685" r="19" fill="#e6e7e8" stroke="#555" stroke-width="0.8"/>
<text x="45.4" y="691.1" font-size="15.4" text-anchor="middle" font-weight="bold" fill="#e5142d">NSM</text>
<text x="88.2" y="691.1" font-size="15.4" text-anchor="middle" font-weight="bold" fill="#f7941d">HSN</text>
<g fill="#b4b4b4" stroke="#707070" stroke-width="0.6">
<circle cx="61.68" cy="713.46" r="2"/>
<circle cx="74.97" cy="715.73" r="2"/>
<circle cx="66.81" cy="720.1" r="2"/>
<circle cx="78.38" cy="720.86" r="2"/>
<circle cx="60.73" cy="722.94" r="2"/>
<circle cx="73.07" cy="725.22" r="2"/>
<circle cx="67.38" cy="728.64" r="2"/>
<circle cx="75.92" cy="730.92" r="2"/>
<circle cx="64.53" cy="736.23" r="2"/>
<circle cx="72.69" cy="736.61" r="2"/>
<circle cx="67.38" cy="742.68" r="2"/>
<circle cx="74.97" cy="747.05" r="2"/>
</g>
<text x="73.6" y="761.6" font-size="17.1" text-anchor="middle" fill="#231f20">serotonin</text>
<text x="73" y="779.3" font-size="15.4" text-anchor="middle" font-weight="bold" fill="#069447">SER-7</text>
<circle cx="47.3" cy="806.9" r="17.4" fill="#e6e7e8" stroke="#555" stroke-width="0.8"/>
<g transform="translate(0,0)">
<g fill="#fff" stroke="#7cc79a" stroke-width="0.5">
<circle cx="49.0" cy="782.5" r="1.45"/>
<circle cx="55.1" cy="785.2" r="1.45"/>
<circle cx="61.6" cy="788.0" r="1.45"/>
<circle cx="48.6" cy="793.6" r="1.45"/>
<circle cx="54.4" cy="795.7" r="1.45"/>
<circle cx="61.0" cy="798.9" r="1.45"/>
</g>
<g stroke="#069447" stroke-width="2.3" stroke-linecap="round">
<line x1="44.9" y1="789.6" x2="48" y2="783.3"/>
<line x1="47.63" y1="790.65" x2="50.33" y2="784.23"/>
<line x1="50.37" y1="791.7" x2="52.67" y2="785.17"/>
<line x1="53.1" y1="792.75" x2="55" y2="786.1"/>
<line x1="55.83" y1="793.8" x2="57.33" y2="787.03"/>
<line x1="58.57" y1="794.85" x2="59.67" y2="787.97"/>
<line x1="61.3" y1="795.9" x2="62" y2="788.9"/>
</g>
<line x1="42.8" y1="790.2" x2="62.4" y2="797.7" stroke="#4a4a4a" stroke-width="0.7"/>
</g>
<circle cx="87.6" cy="806.9" r="17.4" fill="#e6e7e8" stroke="#555" stroke-width="0.8"/>
<g transform="translate(40.3,0.3)">
<g fill="#fff" stroke="#7cc79a" stroke-width="0.5">
<circle cx="49.0" cy="782.5" r="1.45"/>
<circle cx="55.1" cy="785.2" r="1.45"/>
<circle cx="61.6" cy="788.0" r="1.45"/>
<circle cx="48.6" cy="793.6" r="1.45"/>
<circle cx="54.4" cy="795.7" r="1.45"/>
<circle cx="61.0" cy="798.9" r="1.45"/>
</g>
<g stroke="#069447" stroke-width="2.3" stroke-linecap="round">
<line x1="44.9" y1="789.6" x2="48" y2="783.3"/>
<line x1="47.63" y1="790.65" x2="50.33" y2="784.23"/>
<line x1="50.37" y1="791.7" x2="52.67" y2="785.17"/>
<line x1="53.1" y1="792.75" x2="55" y2="786.1"/>
<line x1="55.83" y1="793.8" x2="57.33" y2="787.03"/>
<line x1="58.57" y1="794.85" x2="59.67" y2="787.97"/>
<line x1="61.3" y1="795.9" x2="62" y2="788.9"/>
</g>
<line x1="42.8" y1="790.2" x2="62.4" y2="797.7" stroke="#4a4a4a" stroke-width="0.7"/>
</g>
<text x="47.6" y="813.3" font-size="15.4" text-anchor="middle" font-weight="bold" fill="#e5142d">I1</text>
<text x="88.7" y="813.3" font-size="15.4" text-anchor="middle" font-weight="bold" fill="#e5142d">?</text>
<line x1="67.4" y1="830.7" x2="67.4" y2="856" stroke="#000" stroke-width="1.2"/>
<path d="M67.4 862.2 L63.3 853.2 L67.4 855.3 L71.5 853.2 Z" fill="#000"/>
<text x="63.4" y="876.4" font-size="17.0" text-anchor="middle" fill="#231f20">aversion</text>
<rect x="44" y="881.6" width="39.9" height="18.4" fill="#e6e7e8"/>
<text x="46.6" y="894.4" font-size="14.8" fill="#16a54a"><tspan font-family="'Liberation Serif', serif" font-size="15.5">&#916;</tspan><tspan font-style="italic" font-weight="bold" font-size="15.8">crp</tspan></text>
</g>
</svg>
</body>
</html>
